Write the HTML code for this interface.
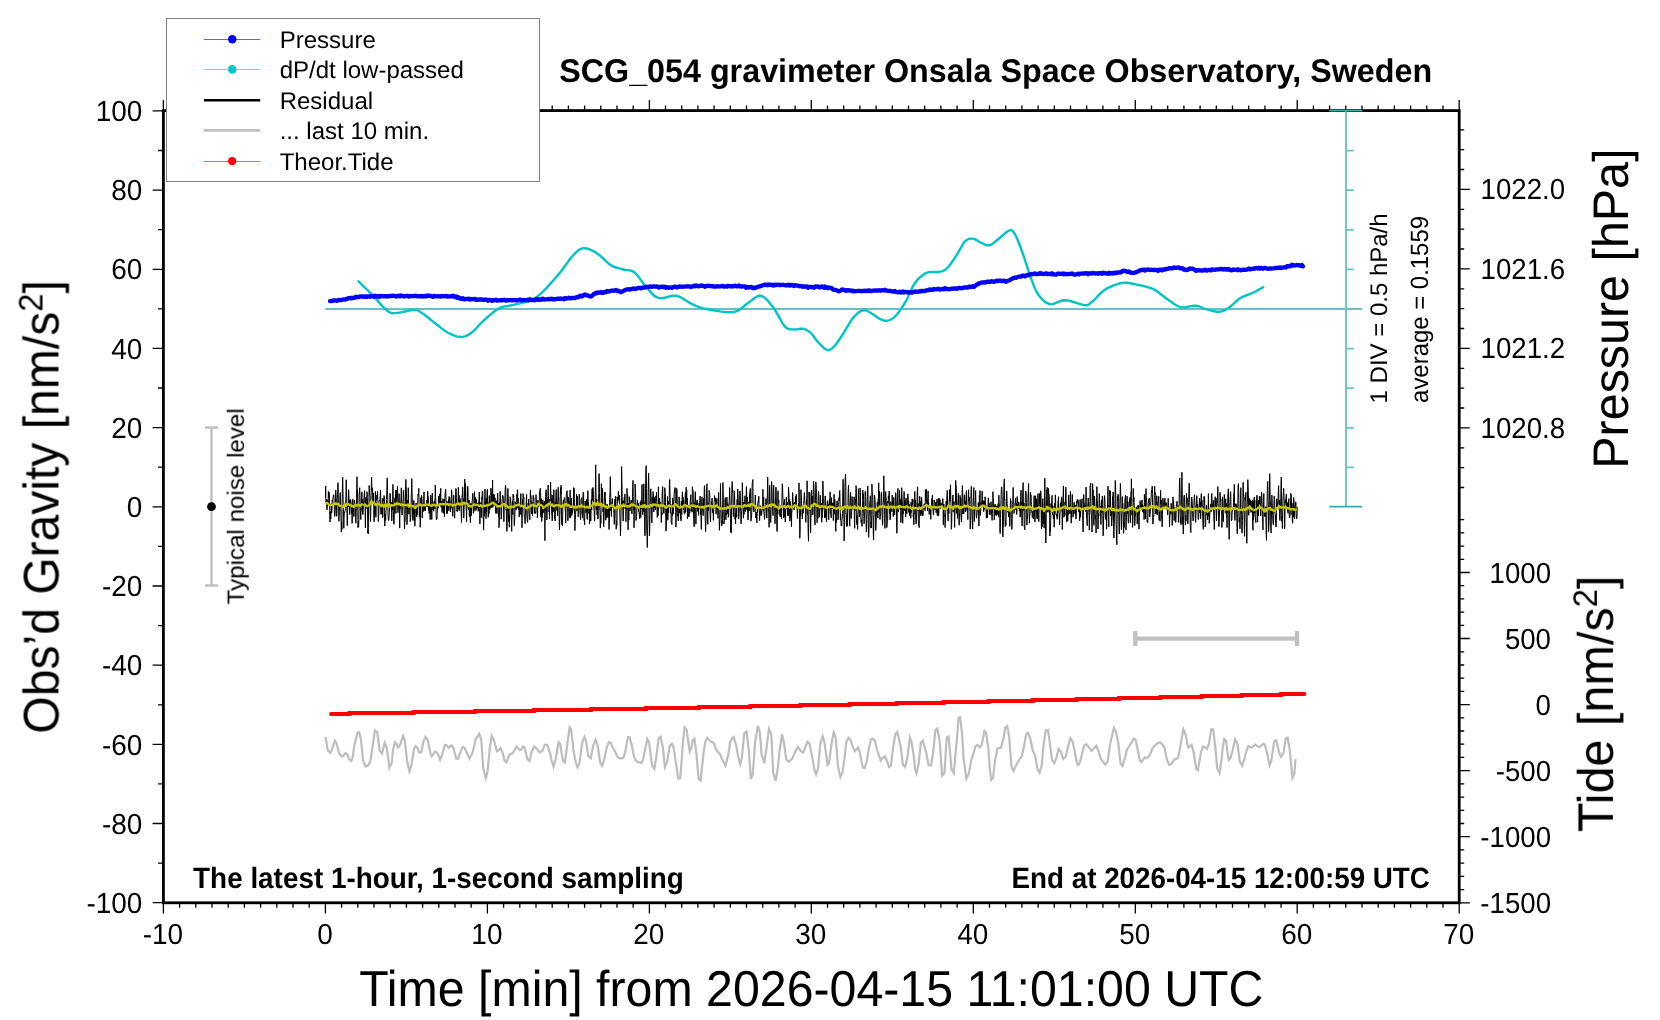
<!DOCTYPE html>
<html><head><meta charset="utf-8"><style>
html,body{margin:0;padding:0;background:#fff;width:1660px;height:1020px;overflow:hidden}
svg{display:block}
</style></head><body>
<svg width="1660" height="1020" viewBox="0 0 1660 1020">
<defs><filter id="gs" x="0" y="0" width="1660" height="1020" filterUnits="userSpaceOnUse"><feColorMatrix type="saturate" values="0"/></filter></defs>
<rect width="1660" height="1020" fill="#fff"/>
<path d="M152.6 902.7L163.4 902.7M158.0 863.1L163.4 863.1M152.6 823.5L163.4 823.5M158.0 783.9L163.4 783.9M152.6 744.3L163.4 744.3M158.0 704.8L163.4 704.8M152.6 665.2L163.4 665.2M158.0 625.6L163.4 625.6M152.6 586.0L163.4 586.0M158.0 546.4L163.4 546.4M152.6 506.8L163.4 506.8M158.0 467.2L163.4 467.2M152.6 427.6L163.4 427.6M158.0 388.0L163.4 388.0M152.6 348.4L163.4 348.4M158.0 308.9L163.4 308.9M152.6 269.3L163.4 269.3M158.0 229.7L163.4 229.7M152.6 190.1L163.4 190.1M158.0 150.5L163.4 150.5M152.6 110.9L163.4 110.9M163.4 902.8L163.4 913.4M163.4 110.6L163.4 100.0M179.6 902.8L179.6 907.8M179.6 110.6L179.6 105.6M195.8 902.8L195.8 907.8M195.8 110.6L195.8 105.6M212.0 902.8L212.0 907.8M212.0 110.6L212.0 105.6M228.2 902.8L228.2 907.8M228.2 110.6L228.2 105.6M244.4 902.8L244.4 907.8M244.4 110.6L244.4 105.6M260.6 902.8L260.6 907.8M260.6 110.6L260.6 105.6M276.8 902.8L276.8 907.8M276.8 110.6L276.8 105.6M293.0 902.8L293.0 907.8M293.0 110.6L293.0 105.6M309.2 902.8L309.2 907.8M309.2 110.6L309.2 105.6M325.4 902.8L325.4 913.4M325.4 110.6L325.4 100.0M341.6 902.8L341.6 907.8M341.6 110.6L341.6 105.6M357.8 902.8L357.8 907.8M357.8 110.6L357.8 105.6M374.0 902.8L374.0 907.8M374.0 110.6L374.0 105.6M390.2 902.8L390.2 907.8M390.2 110.6L390.2 105.6M406.4 902.8L406.4 907.8M406.4 110.6L406.4 105.6M422.6 902.8L422.6 907.8M422.6 110.6L422.6 105.6M438.8 902.8L438.8 907.8M438.8 110.6L438.8 105.6M455.0 902.8L455.0 907.8M455.0 110.6L455.0 105.6M471.2 902.8L471.2 907.8M471.2 110.6L471.2 105.6M487.4 902.8L487.4 913.4M487.4 110.6L487.4 100.0M503.6 902.8L503.6 907.8M503.6 110.6L503.6 105.6M519.8 902.8L519.8 907.8M519.8 110.6L519.8 105.6M536.0 902.8L536.0 907.8M536.0 110.6L536.0 105.6M552.2 902.8L552.2 907.8M552.2 110.6L552.2 105.6M568.4 902.8L568.4 907.8M568.4 110.6L568.4 105.6M584.6 902.8L584.6 907.8M584.6 110.6L584.6 105.6M600.8 902.8L600.8 907.8M600.8 110.6L600.8 105.6M617.0 902.8L617.0 907.8M617.0 110.6L617.0 105.6M633.2 902.8L633.2 907.8M633.2 110.6L633.2 105.6M649.4 902.8L649.4 913.4M649.4 110.6L649.4 100.0M665.5 902.8L665.5 907.8M665.5 110.6L665.5 105.6M681.7 902.8L681.7 907.8M681.7 110.6L681.7 105.6M697.9 902.8L697.9 907.8M697.9 110.6L697.9 105.6M714.1 902.8L714.1 907.8M714.1 110.6L714.1 105.6M730.3 902.8L730.3 907.8M730.3 110.6L730.3 105.6M746.5 902.8L746.5 907.8M746.5 110.6L746.5 105.6M762.7 902.8L762.7 907.8M762.7 110.6L762.7 105.6M778.9 902.8L778.9 907.8M778.9 110.6L778.9 105.6M795.1 902.8L795.1 907.8M795.1 110.6L795.1 105.6M811.3 902.8L811.3 913.4M811.3 110.6L811.3 100.0M827.5 902.8L827.5 907.8M827.5 110.6L827.5 105.6M843.7 902.8L843.7 907.8M843.7 110.6L843.7 105.6M859.9 902.8L859.9 907.8M859.9 110.6L859.9 105.6M876.1 902.8L876.1 907.8M876.1 110.6L876.1 105.6M892.3 902.8L892.3 907.8M892.3 110.6L892.3 105.6M908.5 902.8L908.5 907.8M908.5 110.6L908.5 105.6M924.7 902.8L924.7 907.8M924.7 110.6L924.7 105.6M940.9 902.8L940.9 907.8M940.9 110.6L940.9 105.6M957.1 902.8L957.1 907.8M957.1 110.6L957.1 105.6M973.3 902.8L973.3 913.4M973.3 110.6L973.3 100.0M989.5 902.8L989.5 907.8M989.5 110.6L989.5 105.6M1005.7 902.8L1005.7 907.8M1005.7 110.6L1005.7 105.6M1021.9 902.8L1021.9 907.8M1021.9 110.6L1021.9 105.6M1038.1 902.8L1038.1 907.8M1038.1 110.6L1038.1 105.6M1054.3 902.8L1054.3 907.8M1054.3 110.6L1054.3 105.6M1070.5 902.8L1070.5 907.8M1070.5 110.6L1070.5 105.6M1086.7 902.8L1086.7 907.8M1086.7 110.6L1086.7 105.6M1102.9 902.8L1102.9 907.8M1102.9 110.6L1102.9 105.6M1119.1 902.8L1119.1 907.8M1119.1 110.6L1119.1 105.6M1135.3 902.8L1135.3 913.4M1135.3 110.6L1135.3 100.0M1151.5 902.8L1151.5 907.8M1151.5 110.6L1151.5 105.6M1167.7 902.8L1167.7 907.8M1167.7 110.6L1167.7 105.6M1183.9 902.8L1183.9 907.8M1183.9 110.6L1183.9 105.6M1200.1 902.8L1200.1 907.8M1200.1 110.6L1200.1 105.6M1216.3 902.8L1216.3 907.8M1216.3 110.6L1216.3 105.6M1232.5 902.8L1232.5 907.8M1232.5 110.6L1232.5 105.6M1248.7 902.8L1248.7 907.8M1248.7 110.6L1248.7 105.6M1264.9 902.8L1264.9 907.8M1264.9 110.6L1264.9 105.6M1281.1 902.8L1281.1 907.8M1281.1 110.6L1281.1 105.6M1297.2 902.8L1297.2 913.4M1297.2 110.6L1297.2 100.0M1313.4 902.8L1313.4 907.8M1313.4 110.6L1313.4 105.6M1329.6 902.8L1329.6 907.8M1329.6 110.6L1329.6 105.6M1345.8 902.8L1345.8 907.8M1345.8 110.6L1345.8 105.6M1362.0 902.8L1362.0 907.8M1362.0 110.6L1362.0 105.6M1378.2 902.8L1378.2 907.8M1378.2 110.6L1378.2 105.6M1394.4 902.8L1394.4 907.8M1394.4 110.6L1394.4 105.6M1410.6 902.8L1410.6 907.8M1410.6 110.6L1410.6 105.6M1426.8 902.8L1426.8 907.8M1426.8 110.6L1426.8 105.6M1443.0 902.8L1443.0 907.8M1443.0 110.6L1443.0 105.6M1459.2 902.8L1459.2 913.4M1459.2 110.6L1459.2 100.0M1459.2 129.8L1464.2 129.8M1459.2 149.7L1464.2 149.7M1459.2 169.5L1464.2 169.5M1459.2 189.4L1469.8 189.4M1459.2 209.3L1464.2 209.3M1459.2 229.2L1464.2 229.2M1459.2 249.0L1464.2 249.0M1459.2 268.9L1469.8 268.9M1459.2 288.8L1464.2 288.8M1459.2 308.7L1464.2 308.7M1459.2 328.5L1464.2 328.5M1459.2 348.4L1469.8 348.4M1459.2 368.3L1464.2 368.3M1459.2 388.1L1464.2 388.1M1459.2 408.0L1464.2 408.0M1459.2 427.9L1469.8 427.9M1459.2 447.8L1464.2 447.8M1459.2 467.7L1464.2 467.7M1459.2 487.5L1464.2 487.5M1459.2 902.8L1469.8 902.8M1459.2 889.6L1464.2 889.6M1459.2 876.4L1464.2 876.4M1459.2 863.1L1464.2 863.1M1459.2 849.9L1464.2 849.9M1459.2 836.7L1469.8 836.7M1459.2 823.5L1464.2 823.5M1459.2 810.3L1464.2 810.3M1459.2 797.1L1464.2 797.1M1459.2 783.9L1464.2 783.9M1459.2 770.7L1469.8 770.7M1459.2 757.4L1464.2 757.4M1459.2 744.2L1464.2 744.2M1459.2 731.0L1464.2 731.0M1459.2 717.8L1464.2 717.8M1459.2 704.6L1469.8 704.6M1459.2 691.4L1464.2 691.4M1459.2 678.2L1464.2 678.2M1459.2 665.0L1464.2 665.0M1459.2 651.8L1464.2 651.8M1459.2 638.5L1469.8 638.5M1459.2 625.3L1464.2 625.3M1459.2 612.1L1464.2 612.1M1459.2 598.9L1464.2 598.9M1459.2 585.7L1464.2 585.7M1459.2 572.5L1469.8 572.5M1459.2 559.3L1464.2 559.3M1459.2 546.1L1464.2 546.1M1459.2 532.8L1464.2 532.8M1459.2 519.6L1464.2 519.6" fill="none" stroke="#000" stroke-width="1.3"/>
<rect x="163.4" y="110.6" width="1295.8" height="792.2" fill="none" stroke="#000" stroke-width="2.8"/>
<path d="M325.5 736.7L327.8 750.4L330.2 752.7L331.8 750.0L334.9 740.6L336.5 742.9L338.8 752.4L341.2 756.3L343.1 755.9L345.5 753.1L347.5 754.7L349.0 759.4L351.4 761.0L352.9 755.5L354.5 744.5L357.6 732.4L359.2 732.4L360.8 739.0L363.1 760.2L365.5 766.5L368.6 764.9L370.6 760.2L374.9 730.4L377.3 732.4L379.6 750.0L382.0 753.5L384.7 742.9L386.7 747.6L389.4 767.6L391.8 762.5L392.9 750.8L394.9 742.5L397.3 744.9L398.0 747.3L400.0 745.3L403.1 735.9L404.7 740.6L407.1 761.0L409.4 771.2L411.4 764.9L414.1 748.4L415.7 746.1L417.6 748.0L418.8 752.0L421.2 752.4L423.5 741.4L425.5 737.1L427.5 739.4L430.6 753.9L431.8 756.3L435.3 751.6L437.6 753.1L440.1 759.8L442.1 754.7L444.8 744.9L447.2 745.7L448.7 747.6L451.5 745.3L453.4 747.6L456.2 758.6L458.1 759.0L462.5 746.9L464.4 747.6L469.5 758.6L472.6 752.4L475.8 739.0L479.3 733.9L481.3 739.8L483.2 768.0L485.8 778.2L487.5 772.0L489.9 746.9L491.9 735.9L493.8 739.8L497.0 751.2L498.9 750.0L500.5 748.0L502.5 752.4L504.8 761.0L506.4 762.2L509.5 754.7L512.3 753.5L514.2 750.8L516.6 746.5L519.7 750.0L521.3 749.6L522.8 746.5L524.4 746.9L527.2 758.6L529.5 761.0L531.5 752.4L534.2 746.5L536.6 748.4L539.7 752.4L542.1 751.2L544.8 744.9L547.2 744.9L550.3 753.9L551.6 760.2L553.5 766.9L555.5 760.2L558.6 742.2L560.2 743.7L562.9 761.0L564.9 762.5L569.6 727.3L571.2 729.6L573.5 750.8L575.9 762.5L577.5 767.3L579.4 763.3L582.2 742.9L584.5 736.7L586.1 741.4L588.4 756.3L590.8 758.2L593.1 746.1L595.5 739.8L597.5 744.5L600.2 762.5L602.2 765.7L604.1 760.2L606.5 748.4L608.8 742.2L610.8 742.9L612.7 747.6L615.1 751.6L617.8 757.5L620.6 758.6L623.3 757.8L624.9 753.1L628.0 737.1L629.6 737.1L631.6 744.5L634.3 757.8L637.1 761.8L641.4 762.9L642.9 760.2L647.3 739.0L649.2 742.9L652.0 764.9L654.3 768.8L656.3 757.1L658.6 738.6L660.6 736.7L663.0 748.4L664.9 767.3L667.0 762.5L669.7 746.1L672.1 743.7L673.6 747.6L676.0 763.3L678.3 778.6L680.3 778.2L683.0 742.2L684.6 727.3L686.6 729.6L689.7 751.6L691.3 748.4L692.8 739.8L694.4 738.6L696.4 753.9L698.7 779.0L700.7 780.6L703.4 753.9L705.4 741.4L707.4 737.8L710.5 741.4L713.6 742.9L716.8 750.8L719.9 753.9L723.0 761.0L725.4 765.7L728.5 753.9L730.1 742.9L732.1 738.2L733.6 737.1L736.0 744.5L738.3 757.1L740.3 764.1L741.9 757.8L744.2 733.5L746.6 731.6L748.9 751.6L750.9 779.0L752.8 774.3L755.2 741.4L757.9 725.7L759.9 732.7L761.5 753.9L764.2 763.3L766.2 750.8L768.9 728.8L771.3 734.3L773.2 772.7L775.6 781.0L777.9 767.3L779.5 751.6L782.0 734.3L783.9 742.2L786.3 759.4L788.6 761.8L792.2 758.6L795.3 751.6L798.0 746.9L800.8 751.2L803.1 752.7L807.5 741.8L809.4 743.3L812.2 757.1L814.5 769.6L816.1 774.3L818.0 768.8L820.4 742.9L822.7 736.3L824.3 741.4L826.3 755.5L827.5 764.9L829.0 763.3L831.4 744.5L833.7 732.4L835.7 737.5L838.0 766.5L840.4 777.1L842.4 772.7L844.3 760.2L846.3 742.2L848.6 737.8L850.6 739.8L852.5 746.1L854.9 751.2L858.0 747.6L859.6 751.6L862.7 767.3L864.7 768.0L866.7 761.8L868.6 750.0L871.0 739.4L872.5 738.6L874.9 740.6L877.3 750.8L880.8 760.6L882.0 758.6L884.7 756.3L886.7 760.2L889.0 766.9L891.0 765.3L892.9 749.2L895.3 734.3L897.2 732.0L898.9 738.7L900.9 747.4L902.8 764.6L905.2 767.0L907.2 758.3L909.9 737.9L911.5 741.9L913.8 756.0L915.0 768.5L916.6 773.2L918.5 764.6L920.9 742.6L922.8 740.7L926.0 752.1L928.7 765.4L931.1 765.4L933.4 750.5L935.4 730.1L937.4 728.5L939.7 741.9L942.1 775.6L944.4 773.2L946.8 737.2L948.7 736.4L951.5 769.3L953.8 773.2L957.0 737.9L958.5 717.9L960.1 717.2L962.1 734.0L963.6 758.3L966.4 778.7L968.7 774.0L971.5 759.1L973.4 753.6L975.4 746.2L977.7 745.0L979.7 747.4L981.7 745.0L984.4 730.9L986.0 732.5L988.3 748.1L989.9 769.3L991.1 779.9L993.0 778.0L995.0 760.7L997.4 748.5L1000.9 747.7L1003.6 737.9L1005.2 727.7L1007.2 726.2L1009.1 736.4L1011.5 766.2L1013.5 770.9L1018.2 761.1L1021.8 756.4L1024.1 745.8L1026.1 734.8L1028.0 732.8L1030.4 738.7L1032.7 750.5L1035.1 755.2L1037.5 769.3L1039.6 772.8L1041.8 764.6L1043.7 744.2L1045.7 730.5L1048.0 730.1L1050.0 744.2L1052.0 759.9L1054.3 763.0L1056.3 758.3L1058.6 748.9L1061.0 752.1L1063.3 759.1L1065.7 756.8L1068.0 746.6L1070.4 738.3L1072.4 741.1L1074.3 748.9L1076.3 759.9L1077.8 765.0L1079.4 763.8L1081.8 755.2L1084.1 745.8L1086.5 744.2L1091.6 750.9L1096.3 745.8L1098.6 751.3L1101.0 759.1L1105.3 764.6L1107.6 761.5L1110.4 742.6L1113.9 728.1L1115.9 731.7L1118.2 742.6L1120.6 763.8L1122.5 765.8L1125.0 757.5L1127.0 749.7L1130.5 744.2L1134.0 738.7L1135.6 739.5L1137.9 750.5L1139.9 760.7L1141.5 761.9L1144.6 757.5L1147.7 757.9L1150.1 754.4L1152.8 747.7L1157.2 743.4L1159.9 742.3L1162.3 744.2L1164.6 748.1L1167.0 759.9L1169.3 765.0L1171.3 763.8L1174.4 759.5L1177.5 758.3L1179.1 753.6L1180.7 744.2L1183.4 729.3L1185.8 735.2L1187.4 744.2L1188.5 747.7L1191.7 745.0L1193.6 752.1L1196.4 769.3L1197.9 770.1L1201.1 752.1L1203.0 746.6L1205.0 747.0L1207.0 748.9L1208.9 744.2L1211.3 729.3L1213.2 729.3L1215.2 745.8L1217.2 768.5L1219.5 773.2L1221.5 759.9L1222.6 748.9L1224.2 739.1L1226.2 741.1L1227.4 752.1L1228.9 759.9L1230.4 758.3L1232.4 751.3L1235.1 739.5L1237.5 744.2L1239.8 761.5L1242.2 765.8L1244.1 759.9L1246.5 750.5L1248.4 746.2L1251.6 747.7L1255.1 744.6L1259.4 747.4L1263.3 743.8L1264.9 745.0L1267.6 755.2L1269.6 765.4L1271.2 761.5L1274.3 741.1L1276.3 740.3L1279.0 752.1L1281.0 756.8L1283.3 753.6L1285.7 738.7L1287.6 737.5L1289.6 748.9L1292.4 778.0L1294.3 774.0L1295.5 759.1" fill="none" stroke="#bdbdbd" stroke-width="2.2" stroke-linejoin="miter"/>
<path d="M331.0 714.0H349.5V713.0H413.5V712.0H475.0V711.0H534.0V710.0H591.0V709.0H646.0V708.0H699.0V707.0H750.5V706.0H800.5V705.0H849.5V704.0H897.0V703.0H943.5V702.0H988.5V701.0H1033.0V700.0H1076.5V699.0H1119.0V698.0H1160.5V697.0H1201.5V696.0H1241.5V695.0H1281.0V694.0H1304.5" fill="none" stroke="#ff0000" stroke-width="3.8" stroke-linecap="round" stroke-linejoin="miter"/>
<path d="M325.4 498.0L325.7 485.9L325.9 502.1L326.2 502.4L326.5 499.3L326.8 508.0L327.0 509.9L327.3 502.3L327.6 506.2L327.8 499.8L328.1 503.6L328.4 491.4L328.6 495.7L328.9 497.9L329.2 492.4L329.5 501.1L329.7 509.7L330.0 522.0L330.3 511.7L330.5 514.7L330.8 518.9L331.1 510.5L331.3 503.8L331.6 513.2L331.9 512.0L332.2 500.1L332.4 502.1L332.7 499.4L333.0 497.3L333.2 497.2L333.5 494.8L333.8 494.8L334.0 498.7L334.3 508.0L334.6 516.5L334.9 515.6L335.1 513.7L335.4 505.7L335.7 490.0L335.9 492.7L336.2 497.7L336.5 510.3L336.7 516.3L337.0 511.1L337.3 498.7L337.6 494.2L337.8 484.1L338.1 482.7L338.4 505.2L338.6 506.4L338.9 521.3L339.2 515.0L339.4 511.2L339.7 506.5L340.0 495.1L340.3 492.4L340.5 505.2L340.8 508.8L341.1 523.0L341.3 532.1L341.6 521.8L341.9 529.8L342.1 505.2L342.4 488.1L342.7 477.2L343.0 492.9L343.2 505.2L343.5 509.8L343.8 528.3L344.0 519.1L344.3 511.9L344.6 512.5L344.8 512.4L345.1 511.4L345.4 508.3L345.7 502.1L345.9 495.6L346.2 479.8L346.5 488.5L346.7 497.3L347.0 514.3L347.3 525.7L347.5 514.8L347.8 505.4L348.1 506.7L348.4 503.7L348.6 489.7L348.9 495.7L349.2 503.2L349.4 499.9L349.7 514.6L350.0 509.5L350.2 504.8L350.5 499.5L350.8 500.5L351.1 502.6L351.3 505.8L351.6 513.8L351.9 515.4L352.1 523.4L352.4 515.5L352.7 499.5L352.9 499.1L353.2 511.4L353.5 505.7L353.8 516.6L354.0 516.6L354.3 500.3L354.6 500.1L354.8 504.1L355.1 504.5L355.4 508.9L355.6 516.3L355.9 523.2L356.2 512.8L356.5 502.0L356.7 489.6L357.0 476.7L357.3 496.9L357.5 490.0L357.8 511.5L358.1 527.7L358.3 521.5L358.6 527.0L358.9 519.7L359.2 494.3L359.4 491.7L359.7 487.7L360.0 497.3L360.2 502.7L360.5 514.1L360.8 519.5L361.0 512.8L361.3 507.4L361.6 499.1L361.9 491.8L362.1 504.1L362.4 511.3L362.7 499.6L362.9 514.6L363.2 506.7L363.5 505.4L363.7 501.7L364.0 498.1L364.3 493.1L364.6 490.6L364.8 504.6L365.1 506.4L365.4 527.9L365.6 509.2L365.9 497.4L366.2 508.6L366.4 507.1L366.7 507.6L367.0 491.7L367.3 497.6L367.5 506.0L367.8 533.0L368.1 530.0L368.3 534.0L368.6 504.4L368.9 504.4L369.1 485.5L369.4 488.6L369.7 495.8L370.0 496.4L370.2 514.1L370.5 521.7L370.8 511.4L371.0 499.6L371.3 486.7L371.6 477.1L371.8 486.0L372.1 491.0L372.4 487.9L372.7 497.2L372.9 501.7L373.2 494.0L373.5 492.9L373.7 508.8L374.0 521.8L374.3 518.4L374.5 506.6L374.8 514.7L375.1 507.1L375.4 491.4L375.6 503.9L375.9 517.3L376.2 501.5L376.4 500.1L376.7 497.6L377.0 495.0L377.2 498.4L377.5 491.4L377.8 500.6L378.1 500.9L378.3 521.6L378.6 516.7L378.9 512.1L379.1 502.4L379.4 500.1L379.7 500.2L379.9 499.7L380.2 497.0L380.5 490.4L380.8 506.1L381.0 514.3L381.3 507.8L381.6 513.4L381.8 514.2L382.1 510.7L382.4 498.4L382.6 517.7L382.9 517.0L383.2 499.1L383.5 499.7L383.7 500.7L384.0 495.6L384.3 496.6L384.5 505.6L384.8 526.1L385.1 514.1L385.3 520.0L385.6 520.8L385.9 511.9L386.2 509.0L386.4 499.6L386.7 494.8L387.0 485.1L387.2 477.9L387.5 490.2L387.8 500.3L388.0 513.9L388.3 520.0L388.6 520.6L388.9 519.2L389.1 515.8L389.4 512.3L389.7 507.4L389.9 493.5L390.2 494.0L390.5 493.8L390.7 505.2L391.0 502.1L391.3 502.3L391.6 512.5L391.8 520.9L392.1 508.6L392.4 509.9L392.6 499.3L392.9 484.4L393.2 496.9L393.4 511.4L393.7 521.0L394.0 524.3L394.3 515.2L394.5 509.0L394.8 498.4L395.1 497.6L395.3 501.9L395.6 490.2L395.9 513.4L396.1 503.4L396.4 501.6L396.7 491.8L397.0 490.0L397.2 497.6L397.5 486.2L397.8 504.5L398.0 512.8L398.3 502.1L398.6 508.9L398.8 498.9L399.1 493.6L399.4 502.8L399.7 528.1L399.9 512.4L400.2 508.1L400.5 508.3L400.7 505.3L401.0 496.7L401.3 487.8L401.5 491.0L401.8 513.5L402.1 514.9L402.4 511.3L402.6 510.3L402.9 505.1L403.2 498.5L403.4 490.0L403.7 490.1L404.0 501.6L404.2 515.5L404.5 529.0L404.8 522.5L405.1 521.7L405.3 513.2L405.6 485.6L405.9 479.4L406.1 485.3L406.4 491.0L406.7 512.0L407.0 524.7L407.2 521.0L407.5 506.9L407.8 500.1L408.0 503.0L408.3 487.7L408.6 502.6L408.8 514.2L409.1 508.1L409.4 509.9L409.7 506.7L409.9 510.1L410.2 521.6L410.5 519.0L410.7 519.1L411.0 510.3L411.3 495.0L411.5 487.5L411.8 478.6L412.1 492.6L412.4 505.6L412.6 516.0L412.9 520.5L413.2 510.9L413.4 514.5L413.7 500.3L414.0 501.6L414.2 520.5L414.5 509.6L414.8 526.2L415.1 521.5L415.3 510.2L415.6 509.7L415.9 510.6L416.1 503.0L416.4 513.4L416.7 517.1L416.9 505.8L417.2 514.8L417.5 511.6L417.8 500.5L418.0 494.1L418.3 495.2L418.6 491.3L418.8 488.4L419.1 503.5L419.4 517.1L419.6 505.1L419.9 510.8L420.2 527.3L420.5 521.2L420.7 499.2L421.0 497.6L421.3 504.4L421.5 495.3L421.8 496.6L422.1 501.0L422.3 518.0L422.6 504.8L422.9 507.5L423.2 510.3L423.4 511.5L423.7 502.7L424.0 491.8L424.2 504.1L424.5 510.5L424.8 507.4L425.0 508.4L425.3 511.0L425.6 508.4L425.9 504.6L426.1 505.6L426.4 506.1L426.7 501.1L426.9 500.0L427.2 506.8L427.5 495.0L427.7 491.2L428.0 496.6L428.3 496.3L428.6 510.3L428.8 504.3L429.1 513.6L429.4 508.9L429.6 504.7L429.9 509.5L430.2 519.7L430.4 509.5L430.7 495.0L431.0 497.8L431.3 510.8L431.5 510.3L431.8 519.5L432.1 500.3L432.3 493.1L432.6 508.4L432.9 509.9L433.1 504.0L433.4 503.4L433.7 511.2L434.0 501.6L434.2 505.5L434.5 500.7L434.8 508.7L435.0 501.4L435.3 485.1L435.6 497.3L435.8 498.7L436.1 514.5L436.4 519.7L436.7 518.2L436.9 519.1L437.2 513.4L437.5 506.9L437.7 508.8L438.0 505.4L438.3 507.8L438.5 496.1L438.8 498.7L439.1 499.5L439.4 505.1L439.6 499.0L439.9 493.7L440.2 504.2L440.4 501.1L440.7 488.3L441.0 505.8L441.2 507.3L441.5 501.3L441.8 505.1L442.1 512.5L442.3 505.8L442.6 509.4L442.9 498.7L443.1 502.4L443.4 513.4L443.7 501.6L443.9 502.3L444.2 499.1L444.5 516.7L444.8 505.1L445.0 494.6L445.3 492.0L445.6 489.0L445.8 491.9L446.1 501.0L446.4 502.1L446.6 514.0L446.9 507.9L447.2 506.1L447.5 513.3L447.7 501.5L448.0 506.8L448.3 508.0L448.5 499.3L448.8 510.6L449.1 496.5L449.3 503.4L449.6 497.3L449.9 497.3L450.2 510.0L450.4 511.9L450.7 508.1L451.0 502.4L451.2 507.6L451.5 489.8L451.8 491.2L452.0 501.9L452.3 509.9L452.6 516.3L452.9 505.8L453.1 506.1L453.4 505.8L453.7 495.1L453.9 507.1L454.2 516.6L454.5 516.7L454.7 518.1L455.0 504.4L455.3 505.0L455.6 497.0L455.8 488.4L456.1 488.9L456.4 497.9L456.6 502.0L456.9 511.2L457.2 510.0L457.4 511.5L457.7 502.3L458.0 509.6L458.3 487.4L458.5 490.2L458.8 502.4L459.1 495.4L459.3 511.0L459.6 503.7L459.9 505.3L460.1 498.5L460.4 503.6L460.7 505.9L461.0 508.4L461.2 512.0L461.5 522.6L461.8 509.6L462.0 495.9L462.3 496.4L462.6 486.9L462.8 488.3L463.1 500.7L463.4 498.7L463.7 518.1L463.9 516.0L464.2 504.4L464.5 498.6L464.7 479.0L465.0 491.7L465.3 504.0L465.5 483.5L465.8 494.1L466.1 507.1L466.4 512.3L466.6 521.7L466.9 503.3L467.2 505.2L467.4 500.7L467.7 486.2L468.0 491.3L468.2 508.3L468.5 509.6L468.8 508.6L469.1 499.9L469.3 515.8L469.6 516.8L469.9 509.6L470.1 508.5L470.4 522.5L470.7 507.4L470.9 503.3L471.2 515.7L471.5 510.5L471.8 505.9L472.0 501.5L472.3 500.5L472.6 499.3L472.8 493.2L473.1 505.1L473.4 513.3L473.6 510.4L473.9 510.1L474.2 501.4L474.5 491.7L474.7 500.3L475.0 511.2L475.3 502.4L475.5 497.1L475.8 506.0L476.1 505.1L476.3 499.0L476.6 509.8L476.9 506.3L477.2 507.7L477.4 504.4L477.7 503.0L478.0 505.5L478.2 511.3L478.5 509.7L478.8 500.5L479.0 500.1L479.3 492.1L479.6 508.7L479.9 523.9L480.1 514.2L480.4 502.6L480.7 505.2L480.9 505.5L481.2 517.6L481.5 515.0L481.7 497.5L482.0 499.2L482.3 490.9L482.6 491.4L482.8 492.4L483.1 518.9L483.4 518.9L483.6 530.1L483.9 516.4L484.2 504.6L484.4 516.2L484.7 504.8L485.0 489.0L485.3 513.4L485.5 501.2L485.8 507.6L486.1 518.6L486.3 498.0L486.6 511.7L486.9 500.1L487.1 490.9L487.4 489.4L487.7 505.0L488.0 507.8L488.2 517.2L488.5 515.7L488.8 502.5L489.0 513.6L489.3 495.6L489.6 503.1L489.9 509.3L490.1 504.3L490.4 507.9L490.7 504.3L490.9 488.2L491.2 491.2L491.5 499.2L491.7 507.7L492.0 504.9L492.3 493.0L492.6 480.1L492.8 507.4L493.1 503.6L493.4 494.0L493.6 504.8L493.9 501.1L494.2 494.6L494.4 502.4L494.7 505.4L495.0 497.8L495.3 500.1L495.5 508.8L495.8 513.4L496.1 504.2L496.3 512.8L496.6 500.8L496.9 513.5L497.1 508.2L497.4 498.3L497.7 493.1L498.0 505.1L498.2 503.3L498.5 516.7L498.8 515.2L499.0 527.7L499.3 520.9L499.6 502.0L499.8 504.3L500.1 491.3L500.4 496.8L500.7 502.2L500.9 510.7L501.2 519.2L501.5 516.2L501.7 507.7L502.0 502.7L502.3 499.2L502.5 495.2L502.8 495.5L503.1 496.0L503.4 500.9L503.6 510.2L503.9 521.7L504.2 506.8L504.4 503.8L504.7 502.0L505.0 495.2L505.2 488.9L505.5 485.2L505.8 487.9L506.1 510.3L506.3 509.1L506.6 526.2L506.9 531.4L507.1 526.7L507.4 511.1L507.7 493.9L507.9 488.4L508.2 496.1L508.5 508.0L508.8 522.0L509.0 514.8L509.3 527.2L509.6 519.6L509.8 510.6L510.1 496.7L510.4 497.2L510.6 498.4L510.9 503.8L511.2 507.4L511.5 523.2L511.7 531.4L512.0 512.3L512.3 504.4L512.5 500.7L512.8 514.7L513.1 494.2L513.3 497.7L513.6 494.6L513.9 500.9L514.2 524.8L514.4 525.7L514.7 518.0L515.0 511.5L515.2 501.7L515.5 503.3L515.8 508.9L516.0 505.7L516.3 510.0L516.6 502.3L516.9 494.4L517.1 498.2L517.4 489.7L517.7 492.7L517.9 508.0L518.2 498.1L518.5 509.7L518.7 502.5L519.0 510.3L519.3 517.0L519.6 507.4L519.8 505.5L520.1 514.6L520.4 503.9L520.6 496.4L520.9 493.6L521.2 514.3L521.4 506.8L521.7 508.1L522.0 527.8L522.3 512.5L522.5 499.5L522.8 504.6L523.1 493.6L523.3 495.9L523.6 498.7L523.9 497.3L524.1 513.1L524.4 517.7L524.7 518.5L525.0 522.4L525.2 523.7L525.5 510.8L525.8 508.1L526.0 507.6L526.3 501.4L526.6 494.4L526.8 514.1L527.1 518.3L527.4 522.2L527.7 522.2L527.9 510.9L528.2 503.1L528.5 507.5L528.7 499.1L529.0 510.3L529.3 515.8L529.5 516.2L529.8 519.7L530.1 509.2L530.4 490.0L530.6 497.5L530.9 495.4L531.2 499.4L531.4 504.6L531.7 514.0L532.0 507.9L532.2 502.3L532.5 515.6L532.8 510.8L533.1 496.3L533.3 495.3L533.6 499.3L533.9 497.8L534.1 505.0L534.4 507.3L534.7 513.4L534.9 511.8L535.2 511.7L535.5 513.4L535.8 511.7L536.0 494.7L536.3 500.2L536.6 502.5L536.8 503.4L537.1 510.0L537.4 518.1L537.6 515.2L537.9 500.1L538.2 506.3L538.5 507.1L538.7 506.4L539.0 503.9L539.3 500.9L539.5 491.5L539.8 491.7L540.1 488.7L540.3 488.3L540.6 492.7L540.9 516.8L541.2 498.5L541.4 511.9L541.7 521.7L542.0 508.2L542.2 517.6L542.5 515.7L542.8 499.8L543.0 513.2L543.3 511.3L543.6 503.2L543.9 511.5L544.1 506.1L544.4 501.3L544.7 511.5L544.9 540.7L545.2 514.3L545.5 506.7L545.7 492.5L546.0 489.9L546.3 489.8L546.6 509.0L546.8 520.0L547.1 514.1L547.4 504.6L547.6 498.5L547.9 496.8L548.2 485.0L548.4 495.4L548.7 502.9L549.0 512.0L549.3 509.3L549.5 519.1L549.8 499.1L550.1 500.8L550.3 500.9L550.6 482.2L550.9 495.5L551.1 494.7L551.4 497.3L551.7 513.9L552.0 516.2L552.2 520.9L552.5 513.9L552.8 495.1L553.0 504.0L553.3 511.8L553.6 502.9L553.8 489.6L554.1 499.7L554.4 511.8L554.7 519.0L554.9 517.7L555.2 521.0L555.5 501.6L555.7 505.0L556.0 490.6L556.3 489.6L556.5 497.2L556.8 509.1L557.1 511.0L557.4 502.6L557.6 515.9L557.9 499.5L558.2 487.3L558.4 501.1L558.7 497.7L559.0 508.0L559.2 520.8L559.5 529.9L559.8 518.8L560.1 507.2L560.3 493.0L560.6 487.7L560.9 494.5L561.1 485.2L561.4 506.1L561.7 519.3L561.9 524.7L562.2 517.9L562.5 526.1L562.8 507.1L563.0 503.3L563.3 500.4L563.6 500.0L563.8 507.2L564.1 499.8L564.4 497.5L564.6 497.8L564.9 500.4L565.2 509.3L565.5 512.7L565.7 523.1L566.0 508.9L566.3 494.0L566.5 492.8L566.8 491.8L567.1 490.7L567.3 494.7L567.6 502.5L567.9 520.8L568.2 508.3L568.4 497.4L568.7 503.5L569.0 501.5L569.2 514.4L569.5 515.0L569.8 518.0L570.1 490.0L570.3 508.3L570.6 517.6L570.9 515.2L571.1 502.1L571.4 498.2L571.7 515.5L571.9 515.3L572.2 506.5L572.5 513.2L572.8 510.9L573.0 508.1L573.3 503.0L573.6 487.6L573.8 506.5L574.1 488.3L574.4 508.5L574.6 514.6L574.9 530.6L575.2 519.6L575.5 519.0L575.7 510.6L576.0 507.4L576.3 508.6L576.5 494.0L576.8 510.9L577.1 509.6L577.3 495.9L577.6 505.7L577.9 507.4L578.2 516.8L578.4 514.9L578.7 514.1L579.0 506.7L579.2 494.2L579.5 498.1L579.8 505.8L580.0 507.5L580.3 516.8L580.6 519.7L580.9 513.2L581.1 499.4L581.4 498.8L581.7 497.6L581.9 499.9L582.2 513.9L582.5 509.8L582.7 517.8L583.0 492.7L583.3 492.1L583.6 492.1L583.8 515.5L584.1 520.7L584.4 518.3L584.6 525.0L584.9 509.3L585.2 501.1L585.4 505.3L585.7 508.7L586.0 512.7L586.3 508.4L586.5 499.5L586.8 512.6L587.1 518.7L587.3 519.5L587.6 500.0L587.9 490.7L588.1 500.3L588.4 501.3L588.7 505.2L589.0 513.6L589.2 507.4L589.5 524.1L589.8 518.8L590.0 513.0L590.3 508.9L590.6 517.8L590.8 521.1L591.1 508.8L591.4 499.1L591.7 509.9L591.9 493.3L592.2 488.7L592.5 500.5L592.7 489.2L593.0 487.4L593.3 490.5L593.5 506.3L593.8 505.2L594.1 511.2L594.4 518.3L594.6 521.1L594.9 510.7L595.2 497.4L595.4 487.5L595.7 464.8L596.0 491.4L596.2 508.6L596.5 509.8L596.8 499.4L597.1 515.0L597.3 504.3L597.6 503.3L597.9 519.1L598.1 516.1L598.4 500.5L598.7 493.7L598.9 474.8L599.2 473.6L599.5 492.4L599.8 510.4L600.0 510.6L600.3 528.1L600.6 515.4L600.8 523.7L601.1 507.6L601.4 483.7L601.6 494.9L601.9 503.6L602.2 493.7L602.5 488.4L602.7 497.2L603.0 511.9L603.3 505.9L603.5 525.7L603.8 526.8L604.1 516.3L604.3 501.8L604.6 492.1L604.9 494.8L605.2 492.4L605.4 499.0L605.7 520.3L606.0 508.0L606.2 518.2L606.5 511.7L606.8 509.1L607.0 504.0L607.3 509.6L607.6 507.5L607.9 517.6L608.1 506.6L608.4 515.8L608.7 509.1L608.9 528.7L609.2 529.5L609.5 513.8L609.7 497.2L610.0 491.9L610.3 476.6L610.6 488.2L610.8 510.8L611.1 504.1L611.4 516.6L611.6 503.2L611.9 501.3L612.2 499.3L612.4 498.5L612.7 504.5L613.0 507.9L613.3 506.8L613.5 506.4L613.8 507.6L614.1 520.6L614.3 524.4L614.6 517.8L614.9 499.1L615.1 509.8L615.4 502.1L615.7 496.2L616.0 518.4L616.2 529.2L616.5 521.0L616.8 525.8L617.0 521.2L617.3 497.0L617.6 502.9L617.8 499.7L618.1 498.4L618.4 491.3L618.7 500.2L618.9 500.1L619.2 500.2L619.5 495.5L619.7 507.0L620.0 521.8L620.3 529.2L620.5 535.8L620.8 524.8L621.1 507.0L621.4 503.0L621.6 466.6L621.9 481.8L622.2 496.4L622.4 508.1L622.7 500.9L623.0 517.6L623.2 521.1L623.5 510.4L623.8 500.7L624.1 506.8L624.3 497.2L624.6 503.6L624.9 494.0L625.1 508.7L625.4 505.7L625.7 507.6L625.9 521.7L626.2 511.8L626.5 507.6L626.8 502.6L627.0 488.4L627.3 498.4L627.6 495.0L627.8 511.4L628.1 529.8L628.4 503.2L628.6 518.0L628.9 520.2L629.2 496.7L629.5 500.9L629.7 502.3L630.0 511.1L630.3 503.1L630.5 503.3L630.8 507.3L631.1 499.9L631.3 501.0L631.6 503.4L631.9 513.9L632.2 504.3L632.4 502.4L632.7 487.7L633.0 480.4L633.2 496.4L633.5 509.9L633.8 510.1L634.0 527.8L634.3 514.2L634.6 504.4L634.9 502.4L635.1 484.1L635.4 488.5L635.7 497.3L635.9 520.3L636.2 520.5L636.5 516.4L636.7 514.8L637.0 505.7L637.3 502.2L637.6 500.2L637.8 507.7L638.1 504.9L638.4 503.5L638.6 511.9L638.9 511.7L639.2 512.1L639.4 516.6L639.7 518.7L640.0 511.9L640.3 502.1L640.5 512.3L640.8 517.6L641.1 500.4L641.3 508.5L641.6 504.8L641.9 485.8L642.1 484.4L642.4 510.3L642.7 514.9L643.0 505.7L643.2 511.7L643.5 506.4L643.8 483.8L644.0 509.8L644.3 502.3L644.6 524.4L644.8 535.9L645.1 534.1L645.4 504.1L645.7 479.1L645.9 468.4L646.2 465.6L646.5 488.7L646.7 530.3L647.0 535.2L647.3 547.5L647.5 530.8L647.8 518.1L648.1 496.6L648.4 481.8L648.6 473.2L648.9 485.3L649.2 511.7L649.4 535.8L649.7 530.9L650.0 514.2L650.3 502.9L650.5 490.8L650.8 488.8L651.1 495.6L651.3 503.0L651.6 511.0L651.9 522.8L652.1 513.2L652.4 497.6L652.7 505.6L653.0 491.6L653.2 493.1L653.5 499.0L653.8 512.0L654.0 496.9L654.3 507.5L654.6 502.5L654.8 499.3L655.1 502.9L655.4 509.8L655.7 499.8L655.9 496.0L656.2 501.1L656.5 492.1L656.7 501.6L657.0 510.1L657.3 517.5L657.5 513.6L657.8 507.6L658.1 515.6L658.4 486.8L658.6 500.1L658.9 508.3L659.2 505.8L659.4 498.3L659.7 504.7L660.0 505.4L660.2 501.8L660.5 505.5L660.8 504.1L661.1 512.3L661.3 522.6L661.6 512.0L661.9 515.4L662.1 494.3L662.4 489.8L662.7 486.6L662.9 499.3L663.2 505.9L663.5 513.2L663.8 512.9L664.0 513.3L664.3 507.5L664.6 502.4L664.8 487.7L665.1 492.2L665.4 493.6L665.6 509.0L665.9 531.1L666.2 530.4L666.5 517.3L666.7 508.9L667.0 518.7L667.3 506.1L667.5 496.5L667.8 520.3L668.1 504.4L668.3 501.1L668.6 512.9L668.9 502.9L669.2 504.1L669.4 483.3L669.7 479.5L670.0 492.8L670.2 498.0L670.5 512.6L670.8 504.1L671.0 515.7L671.3 522.8L671.6 522.2L671.9 524.6L672.1 512.4L672.4 515.9L672.7 497.8L672.9 502.5L673.2 514.1L673.5 506.5L673.7 503.7L674.0 498.8L674.3 492.0L674.6 489.6L674.8 492.8L675.1 487.5L675.4 505.7L675.6 502.1L675.9 527.0L676.2 517.5L676.4 500.1L676.7 488.3L677.0 489.7L677.3 504.1L677.5 507.2L677.8 516.3L678.1 513.9L678.3 520.9L678.6 507.1L678.9 504.8L679.1 496.9L679.4 504.7L679.7 513.2L680.0 506.7L680.2 508.1L680.5 519.0L680.8 515.7L681.0 521.0L681.3 501.2L681.6 514.7L681.8 514.7L682.1 497.9L682.4 491.8L682.7 506.3L682.9 496.8L683.2 499.1L683.5 509.5L683.7 500.3L684.0 512.6L684.3 513.3L684.5 514.2L684.8 513.6L685.1 500.8L685.4 492.6L685.6 512.4L685.9 498.9L686.2 487.2L686.4 503.7L686.7 490.3L687.0 507.0L687.2 498.1L687.5 518.9L687.8 511.0L688.1 505.1L688.3 511.6L688.6 516.7L688.9 517.0L689.1 516.8L689.4 505.8L689.7 512.9L689.9 509.7L690.2 501.9L690.5 498.3L690.8 494.7L691.0 507.8L691.3 511.0L691.6 503.6L691.8 504.7L692.1 512.2L692.4 486.7L692.6 490.7L692.9 490.0L693.2 491.4L693.5 515.5L693.7 519.5L694.0 525.8L694.3 526.8L694.5 502.1L694.8 501.8L695.1 497.0L695.3 491.7L695.6 501.7L695.9 524.1L696.2 509.6L696.4 506.7L696.7 501.7L697.0 501.0L697.2 499.9L697.5 505.9L697.8 511.5L698.0 508.8L698.3 506.4L698.6 515.4L698.9 505.2L699.1 503.1L699.4 508.2L699.7 507.0L699.9 497.5L700.2 496.1L700.5 514.2L700.7 511.2L701.0 518.5L701.3 529.3L701.6 515.5L701.8 498.5L702.1 497.0L702.4 508.5L702.6 510.2L702.9 512.5L703.2 515.6L703.4 509.8L703.7 498.4L704.0 507.0L704.3 487.8L704.5 485.7L704.8 496.8L705.1 517.3L705.3 521.0L705.6 531.6L705.9 523.3L706.1 519.0L706.4 498.8L706.7 487.2L707.0 483.8L707.2 498.1L707.5 511.5L707.8 524.4L708.0 503.3L708.3 503.1L708.6 510.9L708.8 504.3L709.1 490.3L709.4 491.8L709.7 493.7L709.9 504.8L710.2 516.5L710.5 521.8L710.7 514.1L711.0 508.4L711.3 504.9L711.5 501.7L711.8 500.5L712.1 498.2L712.4 505.4L712.6 512.8L712.9 509.9L713.2 512.5L713.4 520.4L713.7 511.3L714.0 506.2L714.2 502.4L714.5 495.6L714.8 498.8L715.1 498.1L715.3 497.7L715.6 502.5L715.9 505.3L716.1 514.2L716.4 501.2L716.7 503.1L716.9 498.3L717.2 510.0L717.5 506.0L717.8 510.4L718.0 518.3L718.3 502.4L718.6 492.4L718.8 507.2L719.1 514.7L719.4 530.3L719.6 526.1L719.9 519.0L720.2 504.5L720.5 483.4L720.7 501.1L721.0 506.9L721.3 519.5L721.5 523.6L721.8 525.9L722.1 521.0L722.3 524.1L722.6 510.2L722.9 482.5L723.2 490.1L723.4 510.8L723.7 511.5L724.0 523.9L724.2 521.2L724.5 520.6L724.8 507.5L725.0 499.9L725.3 497.6L725.6 509.5L725.9 519.8L726.1 513.5L726.4 514.9L726.7 514.1L726.9 497.1L727.2 508.4L727.5 513.5L727.7 503.4L728.0 506.2L728.3 517.3L728.6 515.7L728.8 505.4L729.1 503.7L729.4 497.0L729.6 487.5L729.9 495.4L730.2 508.2L730.5 518.4L730.7 532.2L731.0 527.6L731.3 533.1L731.5 515.9L731.8 490.9L732.1 481.6L732.3 482.9L732.6 492.4L732.9 490.3L733.2 513.6L733.4 516.6L733.7 509.0L734.0 505.6L734.2 499.1L734.5 491.4L734.8 505.3L735.0 519.3L735.3 513.1L735.6 523.8L735.9 508.3L736.1 505.8L736.4 510.5L736.7 517.3L736.9 502.6L737.2 499.2L737.5 505.3L737.7 488.9L738.0 494.4L738.3 502.1L738.6 519.1L738.8 518.3L739.1 513.6L739.4 508.5L739.6 500.3L739.9 491.0L740.2 493.7L740.4 502.0L740.7 511.2L741.0 523.9L741.3 519.0L741.5 516.0L741.8 508.5L742.1 506.9L742.3 482.6L742.6 491.3L742.9 505.2L743.1 502.1L743.4 518.2L743.7 508.6L744.0 514.6L744.2 505.2L744.5 508.9L744.8 498.9L745.0 495.8L745.3 511.2L745.6 511.6L745.8 504.3L746.1 498.1L746.4 486.6L746.7 493.8L746.9 509.6L747.2 497.1L747.5 506.6L747.7 513.2L748.0 520.0L748.3 513.1L748.5 508.3L748.8 501.9L749.1 507.5L749.4 510.7L749.6 493.3L749.9 491.6L750.2 488.7L750.4 488.4L750.7 512.8L751.0 521.1L751.2 517.7L751.5 517.9L751.8 510.9L752.1 487.2L752.3 482.9L752.6 480.9L752.9 479.5L753.1 505.2L753.4 510.0L753.7 506.8L753.9 512.0L754.2 505.1L754.5 504.9L754.8 507.7L755.0 502.9L755.3 495.1L755.6 501.9L755.8 517.9L756.1 512.1L756.4 512.4L756.6 520.2L756.9 522.9L757.2 513.1L757.5 512.9L757.7 503.6L758.0 502.8L758.3 500.7L758.5 502.9L758.8 496.3L759.1 510.3L759.3 510.6L759.6 520.6L759.9 512.3L760.2 507.1L760.4 505.6L760.7 507.5L761.0 515.7L761.2 511.2L761.5 514.9L761.8 512.8L762.0 509.4L762.3 509.4L762.6 508.3L762.9 489.2L763.1 499.0L763.4 511.2L763.7 497.1L763.9 511.6L764.2 514.7L764.5 519.3L764.7 518.0L765.0 511.9L765.3 507.9L765.6 504.5L765.8 499.3L766.1 498.5L766.4 505.5L766.6 515.9L766.9 518.2L767.2 503.3L767.4 492.4L767.7 477.1L768.0 491.7L768.3 508.7L768.5 511.6L768.8 511.4L769.1 527.3L769.3 508.6L769.6 485.0L769.9 496.6L770.1 509.2L770.4 514.6L770.7 522.6L771.0 514.4L771.2 502.3L771.5 481.6L771.8 482.7L772.0 491.4L772.3 503.6L772.6 505.6L772.8 514.1L773.1 515.6L773.4 489.9L773.7 485.1L773.9 496.9L774.2 506.0L774.5 506.6L774.7 507.4L775.0 523.8L775.3 512.3L775.5 504.9L775.8 487.2L776.1 487.2L776.4 502.9L776.6 511.2L776.9 530.0L777.2 531.6L777.4 515.5L777.7 506.4L778.0 490.8L778.2 501.1L778.5 503.1L778.8 500.1L779.1 512.7L779.3 514.5L779.6 509.2L779.9 513.8L780.1 516.9L780.4 505.9L780.7 511.1L780.9 508.5L781.2 515.9L781.5 518.9L781.8 506.4L782.0 497.0L782.3 483.7L782.6 487.3L782.8 496.2L783.1 499.7L783.4 506.5L783.6 518.0L783.9 502.9L784.2 514.1L784.5 499.4L784.7 516.6L785.0 514.6L785.3 522.0L785.5 509.2L785.8 508.6L786.1 503.5L786.3 497.3L786.6 502.4L786.9 509.2L787.2 502.1L787.4 515.4L787.7 513.0L788.0 506.2L788.2 515.8L788.5 487.1L788.8 491.7L789.0 497.2L789.3 500.9L789.6 499.6L789.9 521.2L790.1 501.4L790.4 518.1L790.7 515.0L790.9 505.9L791.2 516.9L791.5 527.0L791.7 513.9L792.0 509.9L792.3 504.8L792.6 492.5L792.8 494.3L793.1 502.4L793.4 508.7L793.6 503.4L793.9 508.4L794.2 509.8L794.4 502.1L794.7 507.0L795.0 507.3L795.3 504.4L795.5 496.5L795.8 497.4L796.1 503.1L796.3 494.3L796.6 505.1L796.9 507.9L797.1 507.2L797.4 518.6L797.7 509.9L798.0 508.4L798.2 506.7L798.5 503.5L798.8 507.7L799.0 482.9L799.3 505.2L799.6 524.6L799.8 538.3L800.1 530.1L800.4 507.2L800.7 515.6L800.9 489.7L801.2 494.6L801.5 500.8L801.7 507.4L802.0 510.4L802.3 519.0L802.5 517.3L802.8 506.1L803.1 513.3L803.4 506.1L803.6 503.4L803.9 500.9L804.2 495.8L804.4 492.6L804.7 498.7L805.0 504.9L805.2 504.7L805.5 505.3L805.8 522.3L806.1 509.2L806.3 505.6L806.6 498.7L806.9 495.9L807.1 480.8L807.4 514.8L807.7 511.8L807.9 516.5L808.2 533.6L808.5 541.2L808.8 514.7L809.0 492.0L809.3 496.5L809.6 511.0L809.8 492.6L810.1 508.1L810.4 517.1L810.6 532.8L810.9 516.9L811.2 515.2L811.5 490.7L811.7 490.1L812.0 508.6L812.3 506.0L812.5 496.0L812.8 514.8L813.1 507.5L813.4 483.9L813.6 481.1L813.9 487.3L814.2 494.9L814.4 508.9L814.7 519.3L815.0 525.0L815.2 506.1L815.5 499.8L815.8 481.8L816.1 485.0L816.3 488.6L816.6 493.8L816.9 515.3L817.1 522.7L817.4 513.7L817.7 504.9L817.9 518.4L818.2 501.1L818.5 491.4L818.8 494.5L819.0 507.9L819.3 517.2L819.6 515.5L819.8 508.1L820.1 501.1L820.4 495.3L820.6 497.7L820.9 509.3L821.2 503.0L821.5 517.8L821.7 522.3L822.0 515.4L822.3 517.5L822.5 506.0L822.8 481.0L823.1 484.8L823.3 499.9L823.6 499.4L823.9 508.1L824.2 510.5L824.4 511.7L824.7 517.9L825.0 502.2L825.2 495.9L825.5 509.2L825.8 517.4L826.0 508.8L826.3 520.1L826.6 521.8L826.9 506.0L827.1 505.1L827.4 500.7L827.7 502.8L827.9 506.4L828.2 504.4L828.5 508.4L828.7 519.8L829.0 507.4L829.3 500.9L829.6 499.1L829.8 505.0L830.1 491.8L830.4 513.3L830.6 511.9L830.9 515.0L831.2 517.8L831.4 497.6L831.7 506.5L832.0 504.0L832.3 503.3L832.5 509.0L832.8 502.8L833.1 503.2L833.3 520.6L833.6 512.8L833.9 497.7L834.1 494.3L834.4 514.2L834.7 499.0L835.0 502.2L835.2 507.0L835.5 523.9L835.8 531.4L836.0 518.1L836.3 522.4L836.6 505.4L836.8 503.9L837.1 500.7L837.4 505.2L837.7 508.9L837.9 519.8L838.2 519.4L838.5 512.0L838.7 505.0L839.0 497.5L839.3 500.8L839.5 491.7L839.8 490.5L840.1 504.6L840.4 519.9L840.6 513.7L840.9 520.9L841.2 525.8L841.4 524.0L841.7 526.1L842.0 519.5L842.2 518.7L842.5 513.6L842.8 490.0L843.1 479.3L843.3 486.8L843.6 504.0L843.9 518.8L844.1 540.9L844.4 525.8L844.7 523.9L844.9 487.5L845.2 479.2L845.5 474.3L845.8 482.9L846.0 514.0L846.3 513.8L846.6 522.1L846.8 526.7L847.1 518.3L847.4 525.8L847.6 509.1L847.9 507.5L848.2 490.2L848.5 485.2L848.7 492.8L849.0 505.9L849.3 516.0L849.5 523.1L849.8 526.2L850.1 506.5L850.3 498.9L850.6 492.4L850.9 517.6L851.2 518.6L851.4 514.0L851.7 511.6L852.0 496.5L852.2 498.2L852.5 506.5L852.8 509.3L853.0 507.3L853.3 508.4L853.6 508.9L853.9 506.6L854.1 496.8L854.4 521.4L854.7 528.3L854.9 509.1L855.2 510.7L855.5 499.5L855.7 501.5L856.0 485.6L856.3 487.5L856.6 504.1L856.8 524.5L857.1 515.4L857.4 518.4L857.6 529.4L857.9 516.2L858.2 508.7L858.4 488.7L858.7 492.6L859.0 508.7L859.3 516.7L859.5 515.8L859.8 512.1L860.1 488.0L860.3 492.5L860.6 504.1L860.9 519.1L861.1 522.6L861.4 521.2L861.7 519.8L862.0 526.4L862.2 513.6L862.5 509.3L862.8 490.0L863.0 498.8L863.3 493.7L863.6 509.0L863.8 516.6L864.1 523.8L864.4 518.5L864.7 511.3L864.9 503.0L865.2 491.4L865.5 496.5L865.7 499.2L866.0 513.2L866.3 532.0L866.5 529.1L866.8 519.8L867.1 504.1L867.4 491.0L867.6 486.2L867.9 486.0L868.2 511.2L868.4 531.1L868.7 537.3L869.0 529.5L869.2 516.8L869.5 509.7L869.8 501.1L870.1 500.8L870.3 495.7L870.6 502.6L870.9 528.1L871.1 522.3L871.4 527.7L871.7 515.3L871.9 484.0L872.2 491.6L872.5 493.4L872.8 500.2L873.0 514.3L873.3 533.4L873.6 540.1L873.8 521.9L874.1 511.0L874.4 495.3L874.6 495.1L874.9 497.8L875.2 501.8L875.5 513.7L875.7 530.4L876.0 527.7L876.3 516.0L876.5 515.1L876.8 511.1L877.1 514.7L877.3 502.2L877.6 513.1L877.9 518.2L878.2 499.2L878.4 501.8L878.7 482.8L879.0 512.4L879.2 502.9L879.5 491.1L879.8 514.5L880.0 519.5L880.3 513.3L880.6 515.6L880.9 506.9L881.1 496.4L881.4 492.0L881.7 494.0L881.9 504.7L882.2 514.1L882.5 525.3L882.7 523.5L883.0 507.6L883.3 503.8L883.6 496.9L883.8 475.8L884.1 490.6L884.4 504.3L884.6 514.3L884.9 528.4L885.2 513.8L885.4 498.1L885.7 491.6L886.0 496.8L886.3 500.4L886.5 510.1L886.8 527.6L887.1 524.2L887.3 521.9L887.6 520.3L887.9 501.2L888.1 503.3L888.4 495.8L888.7 499.4L889.0 495.4L889.2 491.1L889.5 513.6L889.8 507.8L890.0 520.0L890.3 519.5L890.6 508.9L890.8 501.5L891.1 505.0L891.4 510.1L891.7 510.1L891.9 511.7L892.2 495.0L892.5 501.1L892.7 504.2L893.0 503.0L893.3 516.6L893.6 509.2L893.8 497.4L894.1 510.2L894.4 510.3L894.6 514.9L894.9 505.8L895.2 508.5L895.4 500.0L895.7 492.7L896.0 496.1L896.3 504.0L896.5 516.5L896.8 533.3L897.1 528.0L897.3 509.9L897.6 494.3L897.9 488.3L898.1 506.3L898.4 512.1L898.7 506.2L899.0 509.3L899.2 504.3L899.5 490.3L899.8 496.9L900.0 505.3L900.3 499.2L900.6 510.4L900.8 522.5L901.1 519.0L901.4 511.5L901.7 487.7L901.9 494.5L902.2 499.7L902.5 506.0L902.7 523.3L903.0 511.9L903.3 513.6L903.5 505.8L903.8 508.1L904.1 491.5L904.4 504.4L904.6 510.7L904.9 510.1L905.2 500.1L905.4 511.4L905.7 517.1L906.0 498.2L906.2 507.1L906.5 510.8L906.8 514.0L907.1 509.0L907.3 504.1L907.6 495.8L907.9 493.9L908.1 496.2L908.4 504.3L908.7 501.2L908.9 512.5L909.2 504.3L909.5 515.5L909.8 510.6L910.0 515.2L910.3 509.0L910.6 514.6L910.8 518.2L911.1 502.2L911.4 512.5L911.6 511.0L911.9 508.0L912.2 498.9L912.5 504.6L912.7 502.4L913.0 499.5L913.3 517.0L913.5 513.1L913.8 524.8L914.1 514.2L914.3 514.1L914.6 493.1L914.9 491.4L915.2 505.0L915.4 500.2L915.7 520.3L916.0 523.9L916.2 524.1L916.5 521.2L916.8 504.2L917.0 501.8L917.3 492.5L917.6 486.8L917.9 510.7L918.1 503.4L918.4 519.6L918.7 525.6L918.9 525.4L919.2 527.6L919.5 501.8L919.7 496.3L920.0 500.5L920.3 504.5L920.6 515.6L920.8 503.0L921.1 501.2L921.4 513.9L921.6 497.1L921.9 504.1L922.2 516.0L922.4 512.1L922.7 511.4L923.0 515.4L923.3 508.3L923.5 505.2L923.8 504.6L924.1 508.5L924.3 507.2L924.6 505.7L924.9 503.6L925.1 510.8L925.4 489.6L925.7 501.1L926.0 500.7L926.2 491.6L926.5 489.0L926.8 506.1L927.0 499.2L927.3 507.8L927.6 510.8L927.8 504.3L928.1 491.0L928.4 505.4L928.7 502.8L928.9 509.7L929.2 514.4L929.5 512.4L929.7 506.2L930.0 512.1L930.3 510.2L930.5 511.1L930.8 519.3L931.1 506.2L931.4 505.3L931.6 504.5L931.9 498.3L932.2 504.9L932.4 495.1L932.7 506.5L933.0 510.2L933.2 512.5L933.5 515.1L933.8 509.4L934.1 499.9L934.3 500.7L934.6 500.7L934.9 505.1L935.1 509.7L935.4 510.1L935.7 509.2L935.9 502.2L936.2 512.8L936.5 507.5L936.8 502.5L937.0 499.1L937.3 515.5L937.6 508.4L937.8 514.8L938.1 515.5L938.4 498.3L938.6 515.5L938.9 511.6L939.2 499.5L939.5 498.6L939.7 505.2L940.0 499.6L940.3 506.5L940.5 508.9L940.8 503.3L941.1 502.9L941.3 505.4L941.6 504.8L941.9 505.2L942.2 503.5L942.4 504.4L942.7 498.6L943.0 499.6L943.2 523.2L943.5 525.0L943.8 504.0L944.0 508.4L944.3 516.2L944.6 515.8L944.9 517.6L945.1 527.5L945.4 518.7L945.7 512.5L945.9 508.0L946.2 501.0L946.5 510.0L946.7 501.6L947.0 494.2L947.3 490.3L947.6 509.8L947.8 511.8L948.1 521.1L948.4 506.4L948.6 509.0L948.9 513.7L949.2 499.7L949.4 499.2L949.7 489.5L950.0 501.4L950.3 492.2L950.5 484.7L950.8 499.3L951.1 511.3L951.3 529.3L951.6 527.4L951.9 511.4L952.1 511.8L952.4 508.8L952.7 497.2L953.0 494.9L953.2 505.9L953.5 506.5L953.8 511.7L954.0 501.5L954.3 510.5L954.6 527.4L954.8 517.1L955.1 511.7L955.4 504.6L955.7 480.4L955.9 485.6L956.2 485.6L956.5 495.2L956.7 513.3L957.0 512.5L957.3 508.8L957.5 518.6L957.8 503.2L958.1 498.9L958.4 493.4L958.6 504.3L958.9 518.2L959.2 525.2L959.4 513.9L959.7 516.4L960.0 495.3L960.2 496.6L960.5 507.7L960.8 497.8L961.1 517.0L961.3 520.8L961.6 522.1L961.9 508.8L962.1 493.5L962.4 485.6L962.7 494.3L962.9 514.0L963.2 509.4L963.5 510.0L963.8 513.8L964.0 501.1L964.3 494.7L964.6 496.1L964.8 507.8L965.1 510.3L965.4 511.8L965.6 501.4L965.9 504.3L966.2 492.7L966.5 490.6L966.7 509.5L967.0 509.8L967.3 511.6L967.5 505.7L967.8 519.7L968.1 505.9L968.3 496.0L968.6 489.7L968.9 501.2L969.2 496.9L969.4 504.7L969.7 506.7L970.0 511.6L970.2 529.1L970.5 520.4L970.8 515.7L971.0 492.3L971.3 486.3L971.6 492.1L971.9 504.3L972.1 516.5L972.4 525.6L972.7 529.1L972.9 514.9L973.2 505.7L973.5 497.5L973.8 487.6L974.0 508.0L974.3 521.6L974.6 510.9L974.8 510.1L975.1 504.7L975.4 500.1L975.6 490.5L975.9 502.2L976.2 515.2L976.5 518.2L976.7 516.9L977.0 512.6L977.3 509.3L977.5 508.9L977.8 508.3L978.1 510.1L978.3 502.5L978.6 515.5L978.9 526.1L979.2 515.6L979.4 495.1L979.7 504.7L980.0 490.6L980.2 515.6L980.5 514.8L980.8 509.0L981.0 504.5L981.3 502.1L981.6 505.4L981.9 499.4L982.1 491.2L982.4 496.9L982.7 504.6L982.9 504.1L983.2 500.5L983.5 501.5L983.7 511.7L984.0 503.0L984.3 501.4L984.6 509.4L984.8 503.5L985.1 496.8L985.4 500.3L985.6 504.9L985.9 504.7L986.2 511.9L986.4 518.2L986.7 509.9L987.0 510.0L987.3 512.3L987.5 517.6L987.8 508.4L988.1 504.1L988.3 497.8L988.6 506.1L988.9 508.4L989.1 502.9L989.4 514.0L989.7 509.8L990.0 515.0L990.2 512.0L990.5 505.9L990.8 509.2L991.0 501.7L991.3 507.8L991.6 514.3L991.8 516.7L992.1 520.4L992.4 513.8L992.7 506.1L992.9 491.7L993.2 497.1L993.5 501.2L993.7 507.2L994.0 504.4L994.3 520.0L994.5 506.7L994.8 513.6L995.1 513.1L995.4 515.2L995.6 504.4L995.9 507.1L996.2 506.0L996.4 515.5L996.7 510.7L997.0 515.1L997.2 513.4L997.5 506.3L997.8 514.2L998.1 503.7L998.3 507.8L998.6 517.1L998.9 495.2L999.1 505.1L999.4 504.8L999.7 512.0L999.9 530.0L1000.2 533.6L1000.5 518.5L1000.8 506.7L1001.0 499.4L1001.3 489.6L1001.6 487.0L1001.8 486.9L1002.1 496.6L1002.4 509.1L1002.6 530.5L1002.9 536.9L1003.2 528.6L1003.5 521.7L1003.7 495.6L1004.0 483.9L1004.3 478.9L1004.5 500.0L1004.8 499.3L1005.1 520.9L1005.3 526.6L1005.6 520.6L1005.9 525.4L1006.2 513.0L1006.4 501.4L1006.7 490.9L1007.0 498.7L1007.2 503.6L1007.5 510.3L1007.8 511.8L1008.0 511.2L1008.3 512.9L1008.6 516.9L1008.9 512.0L1009.1 510.6L1009.4 509.3L1009.7 526.4L1009.9 524.6L1010.2 507.7L1010.5 498.5L1010.7 501.6L1011.0 500.9L1011.3 518.5L1011.6 525.7L1011.8 529.4L1012.1 526.5L1012.4 509.1L1012.6 504.5L1012.9 500.0L1013.2 487.4L1013.4 503.5L1013.7 503.4L1014.0 513.5L1014.3 512.6L1014.5 510.8L1014.8 507.6L1015.1 502.9L1015.3 501.5L1015.6 498.1L1015.9 510.0L1016.1 509.5L1016.4 503.3L1016.7 514.5L1017.0 504.8L1017.2 496.5L1017.5 503.6L1017.8 506.2L1018.0 504.4L1018.3 508.3L1018.6 508.7L1018.8 501.8L1019.1 504.6L1019.4 511.0L1019.7 507.7L1019.9 509.2L1020.2 517.0L1020.5 510.9L1020.7 496.2L1021.0 490.1L1021.3 500.6L1021.5 505.9L1021.8 518.8L1022.1 525.9L1022.4 511.0L1022.6 498.3L1022.9 487.7L1023.2 482.6L1023.4 504.1L1023.7 510.6L1024.0 503.1L1024.2 527.0L1024.5 527.1L1024.8 529.8L1025.1 512.0L1025.3 497.1L1025.6 491.0L1025.9 491.3L1026.1 492.4L1026.4 502.6L1026.7 515.1L1026.9 525.1L1027.2 515.5L1027.5 518.9L1027.8 512.8L1028.0 495.3L1028.3 491.3L1028.6 483.4L1028.8 500.0L1029.1 511.3L1029.4 523.2L1029.6 516.7L1029.9 514.9L1030.2 509.6L1030.5 492.0L1030.7 496.7L1031.0 495.0L1031.3 501.6L1031.5 504.4L1031.8 512.6L1032.1 512.1L1032.3 517.6L1032.6 511.2L1032.9 512.6L1033.2 518.0L1033.4 518.9L1033.7 514.5L1034.0 497.0L1034.2 495.7L1034.5 509.3L1034.8 520.1L1035.0 521.8L1035.3 507.8L1035.6 495.7L1035.9 505.0L1036.1 511.7L1036.4 505.1L1036.7 498.8L1036.9 518.6L1037.2 504.0L1037.5 519.1L1037.7 506.0L1038.0 493.6L1038.3 514.5L1038.6 514.8L1038.8 521.6L1039.1 509.0L1039.4 493.4L1039.6 503.5L1039.9 494.9L1040.2 508.5L1040.4 501.1L1040.7 490.8L1041.0 493.2L1041.3 522.5L1041.5 528.9L1041.8 510.1L1042.1 527.0L1042.3 513.6L1042.6 499.7L1042.9 498.5L1043.1 507.5L1043.4 523.9L1043.7 522.4L1044.0 509.2L1044.2 528.1L1044.5 501.9L1044.8 478.2L1045.0 494.8L1045.3 513.7L1045.6 534.6L1045.8 543.1L1046.1 533.1L1046.4 508.5L1046.7 490.1L1046.9 493.9L1047.2 487.3L1047.5 511.9L1047.7 503.9L1048.0 512.3L1048.3 504.6L1048.5 488.4L1048.8 493.6L1049.1 494.2L1049.4 499.1L1049.6 517.8L1049.9 536.0L1050.2 525.8L1050.4 531.6L1050.7 520.2L1051.0 503.4L1051.2 508.2L1051.5 509.4L1051.8 497.2L1052.1 495.3L1052.3 509.9L1052.6 514.9L1052.9 505.7L1053.1 515.3L1053.4 519.1L1053.7 518.9L1053.9 514.0L1054.2 527.3L1054.5 514.5L1054.8 503.5L1055.0 506.9L1055.3 494.8L1055.6 498.9L1055.8 513.0L1056.1 514.9L1056.4 514.5L1056.7 516.4L1056.9 514.0L1057.2 519.3L1057.5 511.6L1057.7 512.6L1058.0 500.7L1058.3 500.3L1058.5 496.7L1058.8 512.8L1059.1 513.3L1059.4 518.8L1059.6 525.0L1059.9 516.0L1060.2 508.0L1060.4 503.0L1060.7 502.9L1061.0 505.6L1061.2 501.6L1061.5 496.9L1061.8 511.5L1062.1 512.1L1062.3 529.6L1062.6 506.9L1062.9 497.9L1063.1 496.3L1063.4 485.9L1063.7 505.8L1063.9 517.3L1064.2 512.8L1064.5 509.5L1064.8 515.5L1065.0 502.1L1065.3 505.0L1065.6 493.8L1065.8 487.1L1066.1 494.3L1066.4 513.7L1066.6 522.1L1066.9 512.0L1067.2 514.3L1067.5 510.4L1067.7 521.2L1068.0 512.9L1068.3 514.5L1068.5 496.6L1068.8 495.0L1069.1 504.6L1069.3 512.9L1069.6 505.5L1069.9 513.9L1070.2 506.5L1070.4 491.4L1070.7 496.7L1071.0 514.9L1071.2 523.2L1071.5 510.9L1071.8 517.9L1072.0 514.6L1072.3 494.4L1072.6 502.8L1072.9 506.1L1073.1 513.5L1073.4 516.5L1073.7 510.5L1073.9 505.3L1074.2 502.3L1074.5 504.7L1074.7 508.3L1075.0 513.9L1075.3 507.2L1075.6 505.3L1075.8 517.4L1076.1 519.1L1076.4 510.5L1076.6 501.3L1076.9 502.3L1077.2 501.9L1077.4 499.3L1077.7 503.1L1078.0 499.8L1078.3 508.0L1078.5 502.4L1078.8 511.7L1079.1 512.1L1079.3 509.4L1079.6 520.9L1079.9 517.3L1080.1 499.5L1080.4 517.2L1080.7 507.7L1081.0 509.1L1081.2 509.2L1081.5 505.0L1081.8 501.1L1082.0 498.7L1082.3 513.3L1082.6 515.5L1082.8 523.6L1083.1 532.1L1083.4 515.5L1083.7 494.6L1083.9 501.4L1084.2 503.0L1084.5 506.3L1084.7 507.0L1085.0 505.3L1085.3 509.4L1085.5 511.5L1085.8 501.7L1086.1 487.1L1086.4 512.9L1086.6 518.2L1086.9 519.6L1087.2 525.7L1087.4 511.3L1087.7 506.4L1088.0 502.4L1088.2 498.0L1088.5 501.6L1088.8 512.5L1089.1 515.4L1089.3 530.2L1089.6 519.0L1089.9 501.5L1090.1 485.8L1090.4 487.0L1090.7 483.1L1090.9 509.1L1091.2 513.0L1091.5 515.6L1091.8 521.9L1092.0 532.1L1092.3 506.3L1092.6 483.7L1092.8 492.0L1093.1 489.9L1093.4 493.7L1093.6 515.4L1093.9 525.3L1094.2 509.2L1094.5 496.2L1094.7 499.2L1095.0 508.7L1095.3 519.4L1095.5 515.1L1095.8 518.1L1096.1 532.9L1096.3 507.3L1096.6 497.4L1096.9 486.6L1097.2 498.1L1097.4 500.5L1097.7 517.3L1098.0 529.1L1098.2 525.5L1098.5 513.6L1098.8 516.2L1099.0 503.1L1099.3 493.6L1099.6 500.8L1099.9 506.6L1100.1 508.6L1100.4 506.0L1100.7 519.8L1100.9 524.6L1101.2 513.6L1101.5 500.0L1101.7 512.7L1102.0 502.7L1102.3 496.0L1102.6 498.5L1102.8 515.6L1103.1 535.8L1103.4 530.4L1103.6 519.0L1103.9 510.0L1104.2 506.0L1104.4 495.6L1104.7 496.4L1105.0 502.8L1105.3 516.4L1105.5 519.4L1105.8 518.4L1106.1 513.1L1106.3 509.1L1106.6 529.1L1106.9 512.6L1107.1 511.0L1107.4 509.5L1107.7 501.0L1108.0 486.1L1108.2 509.6L1108.5 519.6L1108.8 526.7L1109.0 504.8L1109.3 510.0L1109.6 504.8L1109.8 490.2L1110.1 496.0L1110.4 491.2L1110.7 513.1L1110.9 516.1L1111.2 511.4L1111.5 523.0L1111.7 526.1L1112.0 520.7L1112.3 514.1L1112.5 496.5L1112.8 497.8L1113.1 491.9L1113.4 496.4L1113.6 529.2L1113.9 538.0L1114.2 526.8L1114.4 518.8L1114.7 511.1L1115.0 499.6L1115.2 480.5L1115.5 481.8L1115.8 498.6L1116.1 524.8L1116.3 528.4L1116.6 541.0L1116.9 544.7L1117.1 524.6L1117.4 496.5L1117.7 500.6L1117.9 494.3L1118.2 494.4L1118.5 511.6L1118.8 515.6L1119.0 530.0L1119.3 534.0L1119.6 528.9L1119.8 504.8L1120.1 494.8L1120.4 483.5L1120.6 490.8L1120.9 503.3L1121.2 517.2L1121.5 529.9L1121.7 527.0L1122.0 512.7L1122.3 496.6L1122.5 509.5L1122.8 503.1L1123.1 508.9L1123.3 515.1L1123.6 533.3L1123.9 522.0L1124.2 527.3L1124.4 517.4L1124.7 507.7L1125.0 498.9L1125.2 497.5L1125.5 495.2L1125.8 519.1L1126.0 530.1L1126.3 521.4L1126.6 514.9L1126.9 500.7L1127.1 496.2L1127.4 508.0L1127.7 513.7L1127.9 501.9L1128.2 521.3L1128.5 523.2L1128.7 521.2L1129.0 512.2L1129.3 505.0L1129.6 499.4L1129.8 503.2L1130.1 497.2L1130.4 522.6L1130.6 514.3L1130.9 492.4L1131.2 493.4L1131.4 478.9L1131.7 498.1L1132.0 515.0L1132.3 510.8L1132.5 527.3L1132.8 524.8L1133.1 511.4L1133.3 488.4L1133.6 501.4L1133.9 497.2L1134.1 501.1L1134.4 510.2L1134.7 525.7L1135.0 521.2L1135.2 517.2L1135.5 516.3L1135.8 509.8L1136.0 509.4L1136.3 506.9L1136.6 509.5L1136.9 510.9L1137.1 523.5L1137.4 524.1L1137.7 507.5L1137.9 505.2L1138.2 507.1L1138.5 505.7L1138.7 516.9L1139.0 529.1L1139.3 516.3L1139.6 508.0L1139.8 510.7L1140.1 500.6L1140.4 506.9L1140.6 506.0L1140.9 509.5L1141.2 509.6L1141.4 507.7L1141.7 502.2L1142.0 499.9L1142.3 507.4L1142.5 504.2L1142.8 512.1L1143.1 505.8L1143.3 512.0L1143.6 512.9L1143.9 510.1L1144.1 519.7L1144.4 494.4L1144.7 507.1L1145.0 499.6L1145.2 510.8L1145.5 519.0L1145.8 493.3L1146.0 488.6L1146.3 499.1L1146.6 498.1L1146.8 506.8L1147.1 521.8L1147.4 520.6L1147.7 522.7L1147.9 520.1L1148.2 503.4L1148.5 501.5L1148.7 499.7L1149.0 500.2L1149.3 498.1L1149.5 513.3L1149.8 517.1L1150.1 514.3L1150.4 509.9L1150.6 506.7L1150.9 499.6L1151.2 496.0L1151.4 491.4L1151.7 489.9L1152.0 492.9L1152.2 486.2L1152.5 502.1L1152.8 524.1L1153.1 523.3L1153.3 517.8L1153.6 515.7L1153.9 516.2L1154.1 500.1L1154.4 493.2L1154.7 486.3L1154.9 494.8L1155.2 492.7L1155.5 513.2L1155.8 508.6L1156.0 514.0L1156.3 511.3L1156.6 510.5L1156.8 495.7L1157.1 515.1L1157.4 509.8L1157.6 503.6L1157.9 501.9L1158.2 502.1L1158.5 501.4L1158.7 496.4L1159.0 520.2L1159.3 520.3L1159.5 511.8L1159.8 517.4L1160.1 521.2L1160.3 501.4L1160.6 490.4L1160.9 504.2L1161.2 499.9L1161.4 510.6L1161.7 517.1L1162.0 522.0L1162.2 526.8L1162.5 514.7L1162.8 498.9L1163.0 498.1L1163.3 502.6L1163.6 504.1L1163.9 509.0L1164.1 507.7L1164.4 502.6L1164.7 503.8L1164.9 498.2L1165.2 507.2L1165.5 506.4L1165.7 503.8L1166.0 504.8L1166.3 502.6L1166.6 504.9L1166.8 507.4L1167.1 509.7L1167.4 506.2L1167.6 515.0L1167.9 505.8L1168.2 498.3L1168.4 502.7L1168.7 505.9L1169.0 509.3L1169.3 515.2L1169.5 526.9L1169.8 517.6L1170.1 514.9L1170.3 509.5L1170.6 510.7L1170.9 513.6L1171.1 503.3L1171.4 507.0L1171.7 512.9L1172.0 515.5L1172.2 525.4L1172.5 518.4L1172.8 509.6L1173.0 496.9L1173.3 508.3L1173.6 501.4L1173.8 506.2L1174.1 520.6L1174.4 514.5L1174.7 514.4L1174.9 507.6L1175.2 512.5L1175.5 515.5L1175.7 522.4L1176.0 517.7L1176.3 506.2L1176.5 503.5L1176.8 502.0L1177.1 501.3L1177.4 510.3L1177.6 511.0L1177.9 508.8L1178.2 505.7L1178.4 522.3L1178.7 514.4L1179.0 511.4L1179.2 498.8L1179.5 481.1L1179.8 478.0L1180.1 491.0L1180.3 522.8L1180.6 517.4L1180.9 521.7L1181.1 524.8L1181.4 504.2L1181.7 489.9L1181.9 472.2L1182.2 488.0L1182.5 523.7L1182.8 516.7L1183.0 527.5L1183.3 534.0L1183.6 526.1L1183.8 497.8L1184.1 495.6L1184.4 495.2L1184.6 502.9L1184.9 512.0L1185.2 521.2L1185.5 525.1L1185.7 515.2L1186.0 521.1L1186.3 499.1L1186.5 493.4L1186.8 503.4L1187.1 497.8L1187.3 507.6L1187.6 518.2L1187.9 523.9L1188.2 514.6L1188.4 505.3L1188.7 502.6L1189.0 488.8L1189.2 483.1L1189.5 493.4L1189.8 505.9L1190.0 508.6L1190.3 526.7L1190.6 530.5L1190.9 532.6L1191.1 514.5L1191.4 509.4L1191.7 497.0L1191.9 498.6L1192.2 501.2L1192.5 508.7L1192.7 516.0L1193.0 521.0L1193.3 520.3L1193.6 517.6L1193.8 510.0L1194.1 501.3L1194.4 494.8L1194.6 498.6L1194.9 504.4L1195.2 505.0L1195.4 520.0L1195.7 522.3L1196.0 513.1L1196.3 508.5L1196.5 499.7L1196.8 495.6L1197.1 503.6L1197.3 510.2L1197.6 504.1L1197.9 508.6L1198.1 518.4L1198.4 519.6L1198.7 517.6L1199.0 509.3L1199.2 505.0L1199.5 498.3L1199.8 500.2L1200.0 512.8L1200.3 502.3L1200.6 518.7L1200.8 515.0L1201.1 495.1L1201.4 493.5L1201.7 506.2L1201.9 499.9L1202.2 504.8L1202.5 515.1L1202.7 515.9L1203.0 526.0L1203.3 529.3L1203.5 516.2L1203.8 503.2L1204.1 496.2L1204.4 502.5L1204.6 497.0L1204.9 511.4L1205.2 527.1L1205.4 525.3L1205.7 525.5L1206.0 511.0L1206.2 509.6L1206.5 505.0L1206.8 509.0L1207.1 515.2L1207.3 513.5L1207.6 519.9L1207.9 515.4L1208.1 513.3L1208.4 493.6L1208.7 516.1L1208.9 512.7L1209.2 523.3L1209.5 521.7L1209.8 514.2L1210.0 508.8L1210.3 509.5L1210.6 504.2L1210.8 508.5L1211.1 511.9L1211.4 499.9L1211.6 493.7L1211.9 493.4L1212.2 509.5L1212.5 504.3L1212.7 505.0L1213.0 507.2L1213.3 500.3L1213.5 502.0L1213.8 518.3L1214.1 523.4L1214.3 529.6L1214.6 521.3L1214.9 500.1L1215.2 496.7L1215.4 501.2L1215.7 506.4L1216.0 498.1L1216.2 508.9L1216.5 520.9L1216.8 507.6L1217.1 500.3L1217.3 502.2L1217.6 492.2L1217.9 486.6L1218.1 503.0L1218.4 510.7L1218.7 520.0L1218.9 526.7L1219.2 521.4L1219.5 513.1L1219.8 507.0L1220.0 492.3L1220.3 495.9L1220.6 501.7L1220.8 499.0L1221.1 510.3L1221.4 507.0L1221.6 507.5L1221.9 527.5L1222.2 517.8L1222.5 496.8L1222.7 499.2L1223.0 514.1L1223.3 521.7L1223.5 514.7L1223.8 512.2L1224.1 500.4L1224.3 494.5L1224.6 498.6L1224.9 508.7L1225.2 508.9L1225.4 510.3L1225.7 498.8L1226.0 513.4L1226.2 503.3L1226.5 515.4L1226.8 518.5L1227.0 527.6L1227.3 513.6L1227.6 508.6L1227.9 492.9L1228.1 492.5L1228.4 488.8L1228.7 509.8L1228.9 526.6L1229.2 539.4L1229.5 511.5L1229.7 511.1L1230.0 499.3L1230.3 496.1L1230.6 491.6L1230.8 495.1L1231.1 511.1L1231.4 520.9L1231.6 520.0L1231.9 520.0L1232.2 510.6L1232.4 511.2L1232.7 509.6L1233.0 508.9L1233.3 509.6L1233.5 502.4L1233.8 492.9L1234.1 492.4L1234.3 484.3L1234.6 515.3L1234.9 520.4L1235.1 518.8L1235.4 503.9L1235.7 504.5L1236.0 503.7L1236.2 505.4L1236.5 504.6L1236.8 517.7L1237.0 530.3L1237.3 533.9L1237.6 525.3L1237.8 503.9L1238.1 485.9L1238.4 483.6L1238.7 491.5L1238.9 503.0L1239.2 521.8L1239.5 517.7L1239.7 518.2L1240.0 528.9L1240.3 515.8L1240.5 501.0L1240.8 487.7L1241.1 507.4L1241.4 510.6L1241.6 514.7L1241.9 532.8L1242.2 533.1L1242.4 520.3L1242.7 516.1L1243.0 484.3L1243.2 482.3L1243.5 495.7L1243.8 494.9L1244.1 514.7L1244.3 528.2L1244.6 536.3L1244.9 514.4L1245.1 497.0L1245.4 500.5L1245.7 494.9L1245.9 492.3L1246.2 517.7L1246.5 527.8L1246.8 543.3L1247.0 532.5L1247.3 504.7L1247.6 490.9L1247.8 479.7L1248.1 485.8L1248.4 494.8L1248.6 514.8L1248.9 515.3L1249.2 504.0L1249.5 498.1L1249.7 508.8L1250.0 505.0L1250.3 499.8L1250.5 503.0L1250.8 509.8L1251.1 512.5L1251.3 505.6L1251.6 511.5L1251.9 501.2L1252.2 506.5L1252.4 499.9L1252.7 524.5L1253.0 530.3L1253.2 501.2L1253.5 519.7L1253.8 512.4L1254.0 499.1L1254.3 497.2L1254.6 512.9L1254.9 509.2L1255.1 516.3L1255.4 517.4L1255.7 521.7L1255.9 522.7L1256.2 499.9L1256.5 509.2L1256.7 495.7L1257.0 495.2L1257.3 500.7L1257.6 522.1L1257.8 503.9L1258.1 508.8L1258.4 515.8L1258.6 500.0L1258.9 503.5L1259.2 502.0L1259.4 496.2L1259.7 504.2L1260.0 496.3L1260.3 506.8L1260.5 513.8L1260.8 515.8L1261.1 507.2L1261.3 502.0L1261.6 492.0L1261.9 496.9L1262.1 502.6L1262.4 513.8L1262.7 523.0L1263.0 529.9L1263.2 512.6L1263.5 507.9L1263.8 493.5L1264.0 506.9L1264.3 513.2L1264.6 510.9L1264.8 516.6L1265.1 513.0L1265.4 516.4L1265.7 506.6L1265.9 517.7L1266.2 534.2L1266.5 540.4L1266.7 520.9L1267.0 504.3L1267.3 490.8L1267.5 481.9L1267.8 481.3L1268.1 498.1L1268.4 510.9L1268.6 532.0L1268.9 526.1L1269.2 520.6L1269.4 500.3L1269.7 473.7L1270.0 487.5L1270.2 500.0L1270.5 504.1L1270.8 527.9L1271.1 533.1L1271.3 519.2L1271.6 509.5L1271.9 495.1L1272.1 500.7L1272.4 508.7L1272.7 515.4L1272.9 521.9L1273.2 524.8L1273.5 524.6L1273.8 512.1L1274.0 499.5L1274.3 496.0L1274.6 499.6L1274.8 506.9L1275.1 513.5L1275.4 514.6L1275.6 523.5L1275.9 527.0L1276.2 526.6L1276.5 512.5L1276.7 498.7L1277.0 506.9L1277.3 502.4L1277.5 504.5L1277.8 502.8L1278.1 498.9L1278.3 492.7L1278.6 485.7L1278.9 500.5L1279.2 505.7L1279.4 500.3L1279.7 519.5L1280.0 520.6L1280.2 515.8L1280.5 506.4L1280.8 497.4L1281.0 485.6L1281.3 477.0L1281.6 505.3L1281.9 521.3L1282.1 515.8L1282.4 528.5L1282.7 511.9L1282.9 500.5L1283.2 496.2L1283.5 491.3L1283.7 488.3L1284.0 495.6L1284.3 505.9L1284.6 528.7L1284.8 526.0L1285.1 505.0L1285.4 499.7L1285.6 503.0L1285.9 499.5L1286.2 495.3L1286.4 494.0L1286.7 507.5L1287.0 505.7L1287.3 502.5L1287.5 509.3L1287.8 512.5L1288.1 513.3L1288.3 509.4L1288.6 501.7L1288.9 498.5L1289.1 511.0L1289.4 517.7L1289.7 518.1L1290.0 515.0L1290.2 514.9L1290.5 505.5L1290.8 493.3L1291.0 495.3L1291.3 495.3L1291.6 508.0L1291.8 514.3L1292.1 513.3L1292.4 521.2L1292.7 523.2L1292.9 503.3L1293.2 512.2L1293.5 517.2L1293.7 497.5L1294.0 502.5L1294.3 507.0L1294.5 518.6L1294.8 509.1L1295.1 508.2L1295.4 506.1L1295.6 501.9L1295.9 501.9L1296.2 513.6L1296.4 518.8L1296.7 518.8L1297.0 518.4L1297.2 506.9" fill="none" stroke="#000" stroke-width="1"/>
<path d="M325.4 503.8L326.2 503.4L327.0 502.7L327.8 503.2L328.6 504.7L329.5 505.1L330.3 505.0L331.1 505.0L331.9 505.0L332.7 505.2L333.5 504.3L334.3 503.7L335.1 504.0L335.9 503.2L336.7 504.3L337.6 504.1L338.4 503.7L339.2 505.2L340.0 506.0L340.8 505.9L341.6 506.2L342.4 506.5L343.2 507.4L344.0 505.3L344.8 503.9L345.7 506.1L346.5 505.0L347.3 503.9L348.1 503.8L348.9 504.4L349.7 505.3L350.5 505.1L351.3 505.5L352.1 506.4L352.9 505.9L353.8 507.0L354.6 506.3L355.4 504.4L356.2 505.5L357.0 505.7L357.8 504.9L358.6 504.6L359.4 505.0L360.2 506.1L361.0 505.1L361.9 504.2L362.7 504.5L363.5 504.7L364.3 504.5L365.1 504.3L365.9 505.5L366.7 506.4L367.5 506.0L368.3 505.7L369.1 505.3L370.0 504.3L370.8 502.2L371.6 501.1L372.4 503.0L373.2 502.5L374.0 503.1L374.8 504.1L375.6 504.2L376.4 505.2L377.2 504.4L378.1 504.0L378.9 503.7L379.7 504.8L380.5 505.7L381.3 505.1L382.1 504.6L382.9 505.8L383.7 506.9L384.5 506.1L385.3 504.3L386.2 504.7L387.0 506.3L387.8 505.5L388.6 504.0L389.4 504.3L390.2 506.4L391.0 505.1L391.8 505.1L392.6 505.4L393.4 505.3L394.3 505.3L395.1 503.9L395.9 504.4L396.7 503.3L397.5 503.3L398.3 504.3L399.1 503.6L399.9 504.6L400.7 505.2L401.5 504.4L402.4 504.9L403.2 505.6L404.0 504.7L404.8 504.9L405.6 504.9L406.4 505.3L407.2 504.9L408.0 504.5L408.8 506.9L409.7 505.2L410.5 504.9L411.3 506.2L412.1 506.0L412.9 506.4L413.7 506.0L414.5 507.8L415.3 508.2L416.1 506.9L416.9 505.9L417.8 505.3L418.6 505.7L419.4 504.8L420.2 504.4L421.0 505.2L421.8 505.8L422.6 505.5L423.4 505.0L424.2 505.5L425.0 505.3L425.9 504.3L426.7 504.5L427.5 504.6L428.3 504.9L429.1 504.5L429.9 505.1L430.7 505.8L431.5 506.0L432.3 505.5L433.1 504.5L434.0 504.6L434.8 505.3L435.6 505.7L436.4 505.5L437.2 505.4L438.0 505.4L438.8 505.1L439.6 504.0L440.4 504.0L441.2 504.1L442.1 504.1L442.9 504.6L443.7 504.0L444.5 504.1L445.3 504.1L446.1 504.2L446.9 504.2L447.7 503.8L448.5 505.2L449.3 504.8L450.2 504.2L451.0 504.5L451.8 504.5L452.6 505.8L453.4 505.3L454.2 504.6L455.0 505.2L455.8 505.0L456.6 504.3L457.4 503.3L458.3 503.4L459.1 504.6L459.9 504.7L460.7 503.5L461.5 504.4L462.3 504.6L463.1 503.8L463.9 502.8L464.7 503.0L465.5 503.5L466.4 503.3L467.2 503.5L468.0 504.9L468.8 506.2L469.6 506.0L470.4 506.3L471.2 506.3L472.0 506.3L472.8 505.5L473.6 504.8L474.5 504.3L475.3 504.8L476.1 505.0L476.9 504.7L477.7 505.2L478.5 505.6L479.3 506.2L480.1 505.5L480.9 505.1L481.7 506.4L482.6 506.4L483.4 506.0L484.2 505.6L485.0 506.0L485.8 506.0L486.6 505.3L487.4 504.9L488.2 505.4L489.0 504.4L489.9 504.6L490.7 504.1L491.5 503.3L492.3 502.9L493.1 502.5L493.9 503.5L494.7 503.9L495.5 504.4L496.3 505.0L497.1 506.6L498.0 506.4L498.8 506.0L499.6 506.4L500.4 506.4L501.2 505.6L502.0 504.9L502.8 505.0L503.6 503.9L504.4 503.9L505.2 505.7L506.1 505.4L506.9 505.5L507.7 506.9L508.5 507.7L509.3 507.4L510.1 506.9L510.9 507.6L511.7 506.4L512.5 506.6L513.3 507.2L514.2 507.0L515.0 505.7L515.8 505.2L516.6 505.6L517.4 504.8L518.2 505.0L519.0 504.5L519.8 505.7L520.6 506.3L521.4 505.8L522.3 505.6L523.1 506.6L523.9 507.2L524.7 506.4L525.5 507.5L526.3 508.3L527.1 508.3L527.9 507.8L528.7 506.7L529.5 506.9L530.4 506.0L531.2 505.5L532.0 505.0L532.8 504.7L533.6 506.0L534.4 505.5L535.2 505.6L536.0 506.1L536.8 506.5L537.6 505.3L538.5 503.6L539.3 504.4L540.1 504.8L540.9 505.0L541.7 505.2L542.5 506.0L543.3 508.3L544.1 507.0L544.9 506.8L545.7 506.1L546.6 505.1L547.4 505.6L548.2 504.1L549.0 504.1L549.8 503.7L550.6 504.5L551.4 505.4L552.2 504.4L553.0 505.8L553.8 506.4L554.7 505.6L555.5 505.6L556.3 504.9L557.1 505.5L557.9 505.5L558.7 504.9L559.5 505.3L560.3 506.2L561.1 506.8L561.9 506.3L562.8 504.9L563.6 506.6L564.4 506.2L565.2 504.0L566.0 504.5L566.8 504.4L567.6 505.6L568.4 504.9L569.2 505.4L570.1 506.9L570.9 506.9L571.7 506.8L572.5 505.9L573.3 507.2L574.1 507.5L574.9 506.9L575.7 506.4L576.5 507.6L577.3 507.3L578.2 506.3L579.0 506.4L579.8 506.0L580.6 506.8L581.4 505.1L582.2 506.5L583.0 506.6L583.8 506.5L584.6 507.1L585.4 507.0L586.3 507.4L587.1 506.7L587.9 507.2L588.7 507.7L589.5 507.7L590.3 506.3L591.1 505.7L591.9 505.6L592.7 505.4L593.5 503.0L594.4 502.8L595.2 503.7L596.0 505.5L596.8 504.2L597.6 502.3L598.4 504.9L599.2 505.0L600.0 504.4L600.8 503.4L601.6 505.6L602.5 506.4L603.3 504.8L604.1 505.5L604.9 506.4L605.7 507.3L606.5 506.6L607.3 508.1L608.1 507.6L608.9 506.6L609.7 506.5L610.6 505.7L611.4 505.4L612.2 504.9L613.0 506.5L613.8 506.8L614.6 508.2L615.4 508.6L616.2 507.8L617.0 506.6L617.8 506.5L618.7 508.3L619.5 505.8L620.3 505.0L621.1 506.2L621.9 506.7L622.7 505.9L623.5 504.3L624.3 505.9L625.1 505.9L625.9 505.9L626.8 506.4L627.6 506.6L628.4 506.5L629.2 505.7L630.0 506.5L630.8 504.8L631.6 504.2L632.4 505.4L633.2 504.3L634.0 505.1L634.9 505.4L635.7 506.4L636.5 506.5L637.3 506.4L638.1 507.8L638.9 507.6L639.7 506.7L640.5 506.7L641.3 506.8L642.1 505.7L643.0 507.2L643.8 505.2L644.6 504.9L645.4 507.5L646.2 506.8L647.0 506.2L647.8 505.8L648.6 506.6L649.4 507.2L650.3 505.2L651.1 505.1L651.9 506.0L652.7 504.3L653.5 505.0L654.3 504.5L655.1 504.4L655.9 505.5L656.7 505.2L657.5 505.2L658.4 505.2L659.2 506.5L660.0 506.3L660.8 504.8L661.6 505.7L662.4 506.0L663.2 505.1L664.0 505.9L664.8 506.4L665.6 507.6L666.5 507.3L667.3 506.5L668.1 506.4L668.9 505.4L669.7 506.0L670.5 506.1L671.3 506.2L672.1 506.4L672.9 506.3L673.7 506.4L674.6 504.8L675.4 504.2L676.2 504.9L677.0 505.3L677.8 506.6L678.6 506.8L679.4 507.6L680.2 507.7L681.0 506.5L681.8 506.8L682.7 507.2L683.5 506.3L684.3 505.1L685.1 504.9L685.9 505.7L686.7 506.3L687.5 506.2L688.3 506.3L689.1 506.9L689.9 507.5L690.8 505.8L691.6 505.4L692.4 505.8L693.2 505.3L694.0 505.9L694.8 505.6L695.6 506.9L696.4 507.0L697.2 506.0L698.0 506.3L698.9 506.5L699.7 507.3L700.5 507.3L701.3 507.5L702.1 506.9L702.9 506.9L703.7 507.7L704.5 506.7L705.3 506.2L706.1 506.0L707.0 506.3L707.8 506.1L708.6 505.5L709.4 505.8L710.2 506.0L711.0 506.1L711.8 506.9L712.6 507.1L713.4 505.8L714.2 505.9L715.1 506.1L715.9 506.1L716.7 505.2L717.5 507.0L718.3 507.3L719.1 507.4L719.9 508.9L720.7 508.4L721.5 508.7L722.3 508.6L723.2 508.5L724.0 508.9L724.8 507.8L725.6 508.0L726.4 508.7L727.2 507.2L728.0 506.9L728.8 507.8L729.6 508.1L730.5 506.4L731.3 505.9L732.1 506.1L732.9 506.8L733.7 505.9L734.5 505.8L735.3 507.0L736.1 506.2L736.9 507.1L737.7 506.7L738.6 505.8L739.4 506.4L740.2 506.2L741.0 506.5L741.8 506.3L742.6 506.6L743.4 506.9L744.2 505.1L745.0 505.2L745.8 506.2L746.7 505.8L747.5 505.7L748.3 504.5L749.1 506.1L749.9 506.4L750.7 504.1L751.5 504.0L752.3 504.3L753.1 505.2L753.9 504.7L754.8 505.7L755.6 507.9L756.4 507.5L757.2 507.4L758.0 508.2L758.8 508.1L759.6 507.7L760.4 507.7L761.2 507.5L762.0 507.6L762.9 507.9L763.7 507.5L764.5 507.0L765.3 506.7L766.1 506.1L766.9 506.8L767.7 505.3L768.5 506.2L769.3 505.7L770.1 504.8L771.0 506.2L771.8 504.3L772.6 505.0L773.4 504.9L774.2 504.3L775.0 506.7L775.8 506.2L776.6 507.0L777.4 507.4L778.2 507.3L779.1 508.7L779.9 507.5L780.7 506.3L781.5 506.8L782.3 506.3L783.1 506.7L783.9 506.4L784.7 506.1L785.5 507.6L786.3 507.3L787.2 506.6L788.0 505.8L788.8 506.3L789.6 507.5L790.4 506.9L791.2 506.8L792.0 507.6L792.8 507.5L793.6 506.5L794.4 505.1L795.3 505.8L796.1 506.3L796.9 505.6L797.7 506.9L798.5 508.2L799.3 507.8L800.1 507.9L800.9 508.2L801.7 508.6L802.5 506.6L803.4 505.6L804.2 506.9L805.0 505.4L805.8 505.5L806.6 507.5L807.4 507.8L808.2 507.9L809.0 508.6L809.8 508.9L810.6 508.3L811.5 505.4L812.3 505.2L813.1 506.0L813.9 503.6L814.7 503.8L815.5 504.4L816.3 505.3L817.1 506.0L817.9 505.4L818.8 506.3L819.6 507.4L820.4 507.4L821.2 506.2L822.0 506.2L822.8 506.4L823.6 506.9L824.4 507.1L825.2 506.4L826.0 507.6L826.9 508.0L827.7 507.4L828.5 507.2L829.3 506.7L830.1 506.8L830.9 506.8L831.7 506.7L832.5 506.8L833.3 507.2L834.1 508.2L835.0 508.1L835.8 508.6L836.6 508.7L837.4 508.3L838.2 507.8L839.0 507.6L839.8 509.0L840.6 508.8L841.4 507.1L842.2 509.5L843.1 508.9L843.9 506.7L844.7 506.5L845.5 507.3L846.3 507.6L847.1 505.8L847.9 507.5L848.7 508.4L849.5 507.9L850.3 506.7L851.2 507.7L852.0 507.6L852.8 507.7L853.6 507.8L854.4 506.1L855.2 507.6L856.0 508.3L856.8 507.7L857.6 507.4L858.4 506.7L859.3 508.8L860.1 508.9L860.9 507.5L861.7 508.2L862.5 508.4L863.3 508.6L864.1 508.1L864.9 508.0L865.7 507.1L866.5 508.6L867.4 508.7L868.2 508.8L869.0 509.1L869.8 508.4L870.6 509.0L871.4 509.2L872.2 508.5L873.0 508.4L873.8 508.9L874.6 509.3L875.5 510.4L876.3 508.7L877.1 507.9L877.9 508.7L878.7 507.8L879.5 506.3L880.3 506.7L881.1 507.1L881.9 506.2L882.7 506.7L883.6 505.9L884.4 506.6L885.2 507.3L886.0 507.1L886.8 507.7L887.6 506.9L888.4 508.0L889.2 508.2L890.0 506.8L890.8 506.4L891.7 507.2L892.5 507.8L893.3 507.0L894.1 506.4L894.9 507.9L895.7 507.5L896.5 507.5L897.3 506.7L898.1 506.4L899.0 507.9L899.8 505.8L900.6 506.7L901.4 506.9L902.2 506.9L903.0 507.4L903.8 506.8L904.6 507.7L905.4 507.2L906.2 506.3L907.1 506.6L907.9 507.2L908.7 507.5L909.5 507.4L910.3 507.4L911.1 508.1L911.9 508.9L912.7 507.9L913.5 507.4L914.3 508.5L915.2 508.2L916.0 507.8L916.8 508.2L917.6 508.9L918.4 508.8L919.2 507.5L920.0 508.0L920.8 508.9L921.6 507.6L922.4 507.5L923.3 507.1L924.1 506.5L924.9 505.9L925.7 505.5L926.5 505.1L927.3 505.5L928.1 506.1L928.9 507.1L929.7 507.5L930.5 507.1L931.4 508.0L932.2 507.4L933.0 507.1L933.8 506.7L934.6 507.1L935.4 507.5L936.2 507.2L937.0 507.7L937.8 507.4L938.6 507.3L939.5 507.1L940.3 506.8L941.1 506.6L941.9 506.9L942.7 508.0L943.5 509.0L944.3 509.2L945.1 508.5L945.9 509.1L946.7 508.8L947.6 507.3L948.4 505.3L949.2 505.9L950.0 507.5L950.8 506.4L951.6 506.3L952.4 507.6L953.2 508.9L954.0 506.8L954.8 506.0L955.7 506.8L956.5 506.1L957.3 506.5L958.1 505.9L958.9 507.7L959.7 508.4L960.5 507.0L961.3 507.9L962.1 506.8L962.9 506.9L963.8 506.8L964.6 505.3L965.4 506.7L966.2 506.4L967.0 505.8L967.8 506.1L968.6 507.2L969.4 506.7L970.2 507.2L971.0 507.9L971.9 508.0L972.7 508.5L973.5 506.8L974.3 508.4L975.1 508.2L975.9 507.6L976.7 508.9L977.5 508.2L978.3 508.9L979.2 508.4L980.0 507.3L980.8 506.8L981.6 506.0L982.4 506.0L983.2 505.5L984.0 505.6L984.8 506.7L985.6 507.5L986.4 507.4L987.3 507.6L988.1 508.5L988.9 508.4L989.7 508.4L990.5 508.5L991.3 508.1L992.1 508.2L992.9 508.1L993.7 508.4L994.5 508.2L995.4 508.1L996.2 509.0L997.0 508.6L997.8 509.0L998.6 509.8L999.4 508.4L1000.2 507.3L1001.0 509.1L1001.8 508.7L1002.6 507.0L1003.5 507.2L1004.3 508.8L1005.1 508.8L1005.9 507.3L1006.7 508.3L1007.5 509.9L1008.3 509.0L1009.1 508.6L1009.9 510.8L1010.7 510.3L1011.6 509.1L1012.4 508.9L1013.2 508.4L1014.0 508.3L1014.8 506.9L1015.6 506.7L1016.4 507.4L1017.2 506.9L1018.0 507.4L1018.8 506.9L1019.7 507.0L1020.5 507.7L1021.3 506.5L1022.1 507.1L1022.9 508.0L1023.7 507.6L1024.5 507.2L1025.3 507.8L1026.1 508.4L1026.9 507.3L1027.8 506.9L1028.6 507.4L1029.4 507.2L1030.2 506.7L1031.0 507.8L1031.8 508.7L1032.6 507.9L1033.4 508.6L1034.2 509.1L1035.0 508.6L1035.9 508.1L1036.7 508.6L1037.5 508.1L1038.3 507.6L1039.1 507.2L1039.9 508.3L1040.7 508.1L1041.5 508.2L1042.3 509.0L1043.1 508.6L1044.0 511.2L1044.8 509.4L1045.6 509.2L1046.4 508.0L1047.2 506.7L1048.0 509.0L1048.8 507.6L1049.6 508.1L1050.4 508.6L1051.2 509.4L1052.1 511.3L1052.9 509.9L1053.7 508.7L1054.5 509.5L1055.3 510.1L1056.1 509.4L1056.9 508.5L1057.7 509.4L1058.5 509.6L1059.4 508.5L1060.2 508.7L1061.0 508.4L1061.8 508.1L1062.6 507.5L1063.4 507.2L1064.2 507.0L1065.0 506.9L1065.8 508.0L1066.6 507.9L1067.5 507.5L1068.3 507.8L1069.1 508.8L1069.9 508.7L1070.7 507.6L1071.5 508.5L1072.3 508.2L1073.1 508.7L1073.9 508.9L1074.7 508.1L1075.6 508.2L1076.4 507.4L1077.2 507.9L1078.0 508.1L1078.8 507.9L1079.6 508.0L1080.4 508.6L1081.2 510.1L1082.0 509.2L1082.8 508.8L1083.7 508.5L1084.5 508.5L1085.3 509.3L1086.1 507.7L1086.9 508.4L1087.7 509.2L1088.5 507.6L1089.3 508.1L1090.1 508.2L1090.9 507.1L1091.8 507.3L1092.6 506.1L1093.4 508.3L1094.2 508.8L1095.0 506.9L1095.8 508.9L1096.6 509.4L1097.4 509.2L1098.2 508.7L1099.0 508.7L1099.9 509.5L1100.7 508.6L1101.5 509.3L1102.3 509.7L1103.1 509.6L1103.9 509.4L1104.7 510.3L1105.5 510.6L1106.3 508.8L1107.1 509.6L1108.0 509.0L1108.8 508.2L1109.6 508.5L1110.4 508.7L1111.2 508.0L1112.0 509.3L1112.8 510.2L1113.6 508.8L1114.4 509.6L1115.2 510.5L1116.1 510.5L1116.9 509.6L1117.7 510.6L1118.5 510.8L1119.3 509.7L1120.1 509.0L1120.9 509.8L1121.7 510.1L1122.5 509.7L1123.3 510.3L1124.2 510.8L1125.0 510.2L1125.8 510.2L1126.6 510.1L1127.4 509.2L1128.2 510.0L1129.0 508.3L1129.8 507.8L1130.6 508.8L1131.4 507.2L1132.3 507.0L1133.1 508.0L1133.9 508.9L1134.7 509.7L1135.5 509.6L1136.3 510.0L1137.1 511.3L1137.9 510.2L1138.7 509.9L1139.6 509.7L1140.4 508.6L1141.2 508.9L1142.0 508.4L1142.8 508.0L1143.6 508.0L1144.4 507.2L1145.2 508.1L1146.0 508.5L1146.8 507.5L1147.7 508.2L1148.5 508.4L1149.3 508.4L1150.1 506.4L1150.9 506.5L1151.7 507.7L1152.5 506.5L1153.3 505.7L1154.1 506.9L1154.9 508.2L1155.8 507.4L1156.6 506.1L1157.4 507.9L1158.2 508.9L1159.0 507.9L1159.8 508.6L1160.6 509.3L1161.4 509.4L1162.2 508.6L1163.0 507.8L1163.9 508.3L1164.7 507.4L1165.5 507.2L1166.3 507.3L1167.1 507.5L1167.9 508.8L1168.7 509.3L1169.5 509.5L1170.3 510.2L1171.1 510.4L1172.0 510.3L1172.8 509.8L1173.6 510.2L1174.4 510.3L1175.2 509.1L1176.0 509.4L1176.8 509.9L1177.6 508.0L1178.4 507.5L1179.2 508.1L1180.1 506.5L1180.9 507.6L1181.7 507.8L1182.5 508.7L1183.3 509.4L1184.1 509.0L1184.9 510.1L1185.7 509.6L1186.5 508.8L1187.3 508.1L1188.2 507.6L1189.0 508.7L1189.8 509.0L1190.6 508.4L1191.4 509.3L1192.2 510.3L1193.0 509.5L1193.8 508.9L1194.6 508.9L1195.4 508.7L1196.3 508.4L1197.1 509.0L1197.9 509.1L1198.7 508.6L1199.5 508.4L1200.3 508.5L1201.1 509.1L1201.9 508.7L1202.7 508.7L1203.5 509.7L1204.4 510.5L1205.2 510.9L1206.0 510.4L1206.8 510.5L1207.6 511.7L1208.4 510.4L1209.2 510.2L1210.0 509.2L1210.8 508.4L1211.6 508.4L1212.5 508.8L1213.3 508.2L1214.1 508.0L1214.9 508.8L1215.7 507.9L1216.5 508.2L1217.3 507.9L1218.1 507.8L1218.9 507.8L1219.8 508.1L1220.6 508.9L1221.4 509.4L1222.2 508.0L1223.0 508.5L1223.8 508.8L1224.6 508.7L1225.4 509.6L1226.2 507.7L1227.0 509.4L1227.9 509.6L1228.7 508.6L1229.5 509.0L1230.3 508.8L1231.1 510.1L1231.9 507.9L1232.7 507.9L1233.5 509.0L1234.3 508.0L1235.1 509.0L1236.0 508.7L1236.8 508.5L1237.6 509.4L1238.4 509.9L1239.2 509.7L1240.0 509.6L1240.8 509.8L1241.6 509.6L1242.4 510.2L1243.2 509.3L1244.1 509.3L1244.9 509.9L1245.7 508.8L1246.5 509.3L1247.3 507.8L1248.1 507.9L1248.9 508.4L1249.7 506.2L1250.5 507.6L1251.3 509.0L1252.2 508.8L1253.0 509.4L1253.8 510.3L1254.6 510.0L1255.4 509.7L1256.2 509.1L1257.0 509.0L1257.8 508.0L1258.6 507.4L1259.4 507.3L1260.3 507.2L1261.1 508.1L1261.9 508.2L1262.7 509.3L1263.5 509.3L1264.3 511.5L1265.1 511.6L1265.9 509.0L1266.7 510.5L1267.5 509.4L1268.4 508.3L1269.2 508.0L1270.0 507.7L1270.8 509.8L1271.6 509.6L1272.4 509.6L1273.2 510.7L1274.0 510.7L1274.8 511.0L1275.6 510.1L1276.5 508.0L1277.3 508.3L1278.1 508.8L1278.9 506.6L1279.7 506.3L1280.5 507.4L1281.3 507.7L1282.1 507.3L1282.9 507.4L1283.7 507.7L1284.6 507.5L1285.4 506.6L1286.2 507.7L1287.0 508.3L1287.8 508.1L1288.6 508.3L1289.4 508.4L1290.2 509.2L1291.0 509.3L1291.8 509.4L1292.7 509.0L1293.5 509.1L1294.3 510.0L1295.1 509.8L1295.9 509.6L1296.7 509.9" fill="none" stroke="#c8c800" stroke-width="2.2" stroke-linejoin="round"/>
<path d="M1346 110.6L1346 506.6M325.4 309L1362.2 309M1346 150.6L1353.7 150.6M1346 190.2L1353.7 190.2M1346 229.8L1353.7 229.8M1346 269.4L1353.7 269.4M1346 348.6L1353.7 348.6M1346 388.2L1353.7 388.2M1346 427.8L1353.7 427.8M1346 467.4L1353.7 467.4" fill="none" stroke="#66c2c2" stroke-width="1.8"/>
<path d="M1329.3 506.6L1362.2 506.6M1329.3 110.6L1362.2 110.6" fill="none" stroke="#33adad" stroke-width="1.8"/>
<path d="M357.8 280.7L359.4 282.2L361.5 284.3L364.1 286.8L366.9 289.5L369.7 292.3L372.3 294.9L374.8 297.6L377.5 300.6L380.1 303.6L382.7 306.5L385.1 308.9L387.3 310.8L389.1 312.0L390.5 312.7L391.8 313.1L393.0 313.2L394.5 313.1L396.4 313.0L398.8 312.7L401.7 312.2L404.8 311.5L407.9 310.8L410.7 310.3L413.0 310.0L414.7 309.9L415.9 309.9L416.9 310.1L417.8 310.4L418.9 311.1L420.5 312.0L422.6 313.4L425.1 315.2L427.7 317.3L430.4 319.5L433.1 321.6L435.5 323.5L437.7 325.2L439.7 326.9L441.6 328.4L443.6 329.9L445.5 331.3L447.6 332.5L449.8 333.6L452.1 334.7L454.4 335.6L456.8 336.3L459.0 336.8L461.1 337.0L463.0 336.9L464.8 336.4L466.5 335.8L468.2 334.9L469.9 333.8L471.7 332.5L473.6 330.9L475.5 329.1L477.4 327.0L479.4 324.8L481.5 322.6L483.7 320.5L486.1 318.4L488.6 316.1L491.3 313.9L493.9 311.8L496.4 309.9L498.8 308.4L500.9 307.4L502.8 306.8L504.6 306.4L506.5 306.2L508.5 305.9L510.8 305.4L513.5 304.8L516.6 304.1L519.8 303.4L523.1 302.7L526.2 301.8L528.9 300.9L531.2 300.0L533.2 299.1L535.0 298.1L536.8 296.9L538.7 295.4L541.0 293.4L543.7 290.8L546.7 287.8L549.8 284.4L553.0 280.8L556.1 277.2L559.0 273.8L561.7 270.4L564.4 266.8L567.0 263.2L569.5 259.7L571.9 256.7L574.1 254.2L576.1 252.3L577.8 250.7L579.4 249.6L581.0 248.8L582.7 248.3L584.6 248.2L586.7 248.5L589.0 249.1L591.3 250.2L593.7 251.4L596.0 252.8L598.2 254.2L600.3 255.8L602.3 257.6L604.3 259.6L606.3 261.5L608.2 263.3L610.2 264.8L612.2 265.9L614.2 266.8L616.2 267.5L618.3 268.1L620.3 268.7L622.3 269.3L624.3 269.7L626.3 270.0L628.3 270.1L630.3 270.5L632.3 271.1L634.3 272.3L636.3 274.2L638.3 276.6L640.3 279.3L642.4 282.2L644.4 284.9L646.4 287.3L648.3 289.5L650.2 291.6L652.0 293.7L654.0 295.5L656.0 296.9L658.4 297.9L661.1 298.2L664.1 297.8L667.3 297.0L670.5 296.2L673.6 295.7L676.5 295.8L679.2 296.6L681.8 297.9L684.2 299.4L686.7 301.0L689.1 302.6L691.6 303.9L694.0 304.9L696.2 305.9L698.4 306.8L700.7 307.6L703.4 308.3L706.6 309.0L710.6 309.8L715.2 310.6L720.1 311.4L725.1 312.0L729.7 312.3L733.7 312.0L736.9 311.1L739.7 309.6L742.2 307.8L744.4 305.8L746.6 304.0L748.8 302.4L751.0 300.9L753.0 299.3L755.0 297.8L756.9 296.6L758.8 295.8L760.8 295.8L762.8 296.5L764.8 297.9L766.8 299.7L768.9 301.9L770.9 304.4L772.9 306.9L774.9 309.9L777.0 313.4L779.1 317.2L781.1 320.9L783.1 324.1L784.9 326.5L786.6 328.0L788.1 328.9L789.6 329.3L791.1 329.4L792.5 329.4L794.0 329.5L795.5 329.5L797.1 329.4L798.6 329.1L800.2 328.8L801.7 328.7L803.1 328.8L804.5 329.2L805.8 329.6L807.0 330.3L808.3 331.0L809.5 331.9L810.8 333.0L812.1 334.3L813.4 335.9L814.6 337.7L815.9 339.4L817.3 341.2L818.6 342.7L820.0 344.2L821.5 345.7L823.0 347.2L824.4 348.5L825.9 349.4L827.2 350.0L828.4 350.2L829.5 350.0L830.5 349.6L831.6 348.8L832.7 347.8L834.0 346.5L835.4 344.9L837.0 342.8L838.6 340.5L840.3 338.0L842.0 335.5L843.6 333.0L845.2 330.4L846.8 327.7L848.5 324.9L850.1 322.2L851.7 319.7L853.3 317.6L854.9 315.8L856.6 314.2L858.2 312.8L859.8 311.7L861.4 310.9L862.9 310.3L864.3 310.1L865.5 310.3L866.8 310.7L868.0 311.3L869.2 312.1L870.6 312.8L872.1 313.7L873.7 314.8L875.4 316.0L877.1 317.2L878.7 318.3L880.2 319.1L881.6 319.7L882.9 320.2L884.2 320.5L885.5 320.7L886.7 320.7L888.0 320.5L889.3 320.2L890.5 319.7L891.7 319.0L893.0 318.2L894.3 317.1L895.7 315.7L897.2 314.0L898.8 312.1L900.4 309.9L902.0 307.5L903.7 304.9L905.3 302.2L906.9 299.2L908.5 295.9L910.0 292.3L911.6 288.9L913.3 285.6L915.0 282.9L916.8 280.6L918.6 278.6L920.5 276.8L922.5 275.2L924.4 273.9L926.5 272.9L928.7 272.2L931.1 272.0L933.5 271.9L935.9 272.0L938.1 272.0L940.0 271.7L941.6 271.3L942.9 270.9L944.1 270.4L945.2 269.7L946.4 268.8L947.7 267.5L949.2 265.8L950.8 263.7L952.5 261.3L954.2 258.8L955.8 256.3L957.3 254.0L958.7 251.7L960.0 249.4L961.3 247.0L962.5 244.8L963.7 242.9L965.0 241.4L966.3 240.3L967.6 239.5L968.9 239.0L970.2 238.7L971.5 238.6L972.8 238.6L974.1 238.9L975.3 239.4L976.6 240.1L977.9 241.0L979.2 241.7L980.5 242.4L981.9 243.0L983.3 243.8L984.8 244.5L986.3 245.0L987.7 245.3L989.2 245.3L990.6 244.9L992.0 244.1L993.3 243.1L994.7 242.0L996.2 240.8L997.8 239.5L999.6 238.0L1001.7 236.2L1003.8 234.4L1005.9 232.6L1007.8 231.3L1009.4 230.5L1010.7 230.3L1011.7 230.4L1012.5 230.8L1013.3 231.7L1014.2 233.0L1015.2 234.7L1016.4 237.0L1017.6 239.9L1018.9 243.2L1020.3 246.7L1021.6 250.4L1022.9 254.0L1024.2 257.7L1025.5 261.6L1026.8 265.7L1028.0 269.7L1029.3 273.5L1030.6 277.1L1031.8 280.4L1033.0 283.6L1034.2 286.6L1035.4 289.5L1036.8 292.1L1038.3 294.5L1040.0 296.7L1041.7 298.8L1043.6 300.6L1045.6 302.2L1047.7 303.4L1049.9 304.1L1052.2 304.1L1054.6 303.5L1057.1 302.4L1059.7 301.3L1062.5 300.5L1065.3 300.2L1068.4 300.6L1071.9 301.5L1075.5 302.6L1078.9 303.7L1082.0 304.6L1084.6 305.1L1086.4 305.2L1087.6 305.1L1088.5 304.7L1089.2 304.2L1090.2 303.3L1091.6 302.2L1093.4 300.6L1095.5 298.5L1097.7 296.1L1100.1 293.7L1102.6 291.5L1105.1 289.6L1107.8 288.0L1110.7 286.6L1113.6 285.3L1116.6 284.3L1119.6 283.5L1122.4 282.9L1125.1 282.7L1127.7 282.8L1130.2 283.2L1132.7 283.7L1135.2 284.2L1137.8 284.8L1140.4 285.3L1143.1 285.9L1145.8 286.6L1148.4 287.3L1150.9 288.1L1153.3 289.1L1155.4 290.2L1157.3 291.5L1159.1 292.9L1160.8 294.3L1162.7 295.8L1164.8 297.3L1167.1 299.0L1169.6 300.8L1172.3 302.8L1174.9 304.5L1177.6 306.0L1180.2 307.0L1182.8 307.4L1185.6 307.2L1188.3 306.7L1191.0 306.1L1193.5 305.7L1195.7 305.6L1197.6 305.9L1199.2 306.4L1200.6 307.0L1202.0 307.7L1203.5 308.3L1205.3 308.9L1207.4 309.5L1209.7 310.1L1212.0 310.8L1214.4 311.3L1216.7 311.7L1218.8 311.8L1220.6 311.6L1222.2 311.2L1223.7 310.7L1225.2 310.0L1226.7 309.1L1228.4 308.0L1230.2 306.7L1232.0 305.1L1234.0 303.3L1235.9 301.5L1237.9 299.8L1240.0 298.3L1242.2 297.1L1244.5 296.1L1246.8 295.2L1249.1 294.3L1251.4 293.4L1253.5 292.5L1255.6 291.5L1257.6 290.4L1259.6 289.2L1261.5 288.2L1263.0 287.3L1264.1 286.7" fill="none" stroke="#00c4c4" stroke-width="2.4" stroke-linejoin="round"/>
<path d="M330 301.2L331 301.2L332 300.9L333 300.5L334 300.6L335 300.3L336 300.5L337 300.9L338 300.1L339 299.9L340 300.2L341 300.1L342 299.8L343 299.4L344 299.6L345 299.7L346 298.8L347 298.9L348 298.2L349 298.3L350 297.9L351 298.3L352 297.7L353 298.1L354 297.9L355 297.6L356 296.6L357 297.1L358 297.1L359 297.0L360 296.3L361 296.6L362 296.4L363 296.4L364 297.0L365 296.4L366 296.6L367 296.9L368 296.3L369 296.5L370 296.5L371 296.5L372 296.0L373 296.4L374 296.8L375 295.8L376 296.6L377 296.3L378 296.0L379 296.9L380 296.5L381 295.8L382 296.2L383 296.4L384 296.1L385 296.4L386 296.1L387 296.4L388 296.6L389 295.9L390 296.2L391 295.9L392 296.1L393 295.7L394 295.9L395 296.0L396 296.4L397 296.5L398 295.6L399 295.8L400 296.3L401 295.4L402 295.9L403 296.1L404 296.5L405 296.3L406 296.0L407 296.0L408 296.0L409 296.6L410 296.0L411 296.0L412 296.2L413 296.1L414 296.0L415 295.7L416 296.1L417 295.9L418 296.5L419 296.3L420 296.1L421 296.3L422 296.0L423 296.5L424 296.1L425 296.3L426 295.7L427 296.3L428 295.6L429 295.5L430 296.1L431 295.9L432 296.3L433 297.0L434 295.9L435 296.0L436 296.3L437 296.4L438 296.2L439 296.2L440 296.5L441 296.5L442 295.9L443 296.3L444 296.3L445 296.0L446 296.4L447 296.0L448 296.7L449 296.4L450 296.4L451 296.2L452 296.3L453 295.7L454 296.2L455 297.0L456 296.4L457 297.8L458 297.1L459 298.3L460 298.0L461 298.9L462 298.8L463 298.2L464 299.3L465 299.4L466 298.9L467 298.9L468 299.0L469 298.7L470 299.5L471 299.0L472 299.2L473 299.0L474 299.1L475 298.9L476 299.9L477 299.4L478 299.8L479 299.6L480 299.4L481 299.5L482 299.5L483 299.8L484 299.7L485 299.8L486 299.5L487 299.8L488 300.7L489 300.0L490 299.9L491 300.4L492 300.9L493 299.9L494 300.3L495 300.2L496 299.7L497 300.6L498 300.3L499 300.4L500 300.1L501 300.5L502 300.1L503 300.2L504 299.9L505 299.8L506 300.7L507 300.1L508 300.3L509 300.2L510 300.1L511 300.0L512 300.4L513 300.1L514 300.1L515 300.1L516 300.5L517 300.3L518 300.2L519 299.8L520 299.5L521 300.3L522 300.3L523 299.9L524 300.1L525 300.2L526 300.2L527 300.2L528 299.7L529 300.3L530 299.3L531 300.1L532 299.9L533 300.0L534 300.3L535 300.2L536 299.2L537 299.0L538 299.9L539 299.2L540 299.5L541 299.8L542 298.9L543 298.7L544 299.5L545 299.4L546 299.3L547 299.4L548 299.1L549 298.8L550 299.3L551 298.9L552 298.7L553 299.4L554 299.2L555 299.3L556 298.8L557 298.8L558 298.6L559 298.6L560 298.9L561 298.5L562 298.8L563 298.8L564 299.3L565 298.0L566 298.7L567 298.3L568 298.3L569 297.7L570 298.0L571 298.4L572 298.0L573 298.0L574 297.8L575 298.2L576 297.7L577 296.9L578 297.4L579 296.6L580 295.7L581 296.3L582 296.5L583 295.6L584 294.8L585 294.4L586 295.2L587 295.3L588 295.6L589 296.0L590 296.4L591 296.5L592 295.8L593 294.9L594 293.8L595 293.7L596 292.7L597 293.3L598 292.3L599 292.6L600 292.6L601 292.0L602 293.0L603 292.8L604 292.0L605 292.4L606 292.1L607 290.9L608 291.7L609 291.4L610 291.2L611 290.6L612 290.7L613 290.5L614 290.8L615 290.3L616 290.0L617 291.0L618 290.7L619 291.3L620 291.3L621 292.2L622 291.6L623 291.2L624 290.7L625 290.1L626 289.7L627 289.3L628 289.3L629 289.2L630 289.7L631 289.2L632 288.9L633 288.6L634 288.5L635 289.2L636 288.7L637 288.4L638 288.2L639 287.8L640 288.1L641 288.3L642 287.7L643 287.6L644 287.5L645 287.5L646 286.7L647 287.0L648 286.7L649 287.1L650 286.4L651 286.7L652 286.9L653 286.4L654 286.3L655 286.7L656 286.7L657 286.4L658 287.0L659 287.6L660 286.8L661 286.9L662 286.7L663 287.2L664 286.7L665 286.9L666 287.8L667 287.1L668 287.7L669 287.9L670 287.4L671 287.4L672 287.9L673 287.1L674 286.9L675 286.6L676 287.0L677 287.4L678 287.2L679 286.5L680 286.5L681 286.6L682 286.8L683 286.6L684 286.7L685 286.6L686 286.4L687 286.4L688 286.5L689 286.3L690 286.5L691 287.0L692 286.5L693 286.3L694 285.6L695 286.3L696 285.5L697 285.6L698 286.4L699 286.3L700 286.0L701 285.4L702 285.8L703 285.7L704 286.2L705 286.8L706 286.1L707 285.8L708 285.7L709 286.1L710 286.1L711 285.8L712 286.3L713 285.9L714 286.7L715 286.7L716 286.7L717 286.2L718 286.6L719 286.4L720 286.4L721 286.3L722 286.0L723 285.9L724 286.7L725 286.3L726 286.4L727 286.7L728 285.7L729 286.0L730 286.3L731 286.4L732 286.1L733 286.5L734 286.2L735 285.7L736 285.8L737 286.4L738 286.2L739 285.4L740 286.5L741 286.3L742 286.7L743 286.3L744 286.4L745 286.3L746 287.7L747 286.9L748 287.6L749 287.0L750 287.4L751 286.9L752 287.5L753 288.1L754 287.5L755 288.2L756 287.7L757 286.9L758 286.8L759 286.5L760 286.4L761 285.9L762 285.5L763 285.4L764 284.9L765 284.5L766 285.0L767 285.3L768 284.5L769 285.0L770 284.8L771 284.7L772 285.3L773 284.8L774 285.5L775 284.7L776 285.1L777 284.9L778 284.7L779 285.2L780 284.9L781 285.2L782 285.0L783 284.7L784 285.1L785 285.2L786 285.5L787 284.9L788 285.3L789 284.7L790 285.6L791 285.0L792 284.8L793 285.5L794 286.0L795 285.1L796 285.4L797 285.6L798 285.6L799 286.3L800 286.0L801 286.1L802 286.7L803 286.3L804 286.8L805 286.5L806 286.5L807 286.4L808 287.7L809 286.9L810 287.1L811 287.0L812 287.1L813 287.0L814 287.7L815 286.6L816 286.5L817 286.6L818 286.5L819 287.3L820 287.3L821 286.7L822 286.5L823 287.0L824 287.7L825 286.4L826 287.7L827 287.2L828 288.1L829 287.5L830 287.9L831 287.8L832 288.4L833 289.7L834 289.9L835 289.9L836 290.2L837 290.3L838 291.2L839 291.3L840 290.8L841 290.3L842 289.5L843 289.6L844 289.8L845 290.4L846 290.8L847 290.2L848 290.1L849 290.5L850 290.5L851 290.6L852 291.0L853 290.7L854 291.3L855 291.1L856 291.2L857 291.0L858 290.8L859 290.8L860 291.0L861 290.9L862 291.2L863 291.1L864 290.6L865 291.1L866 290.6L867 290.9L868 291.0L869 290.3L870 291.0L871 291.0L872 290.9L873 290.7L874 290.7L875 290.4L876 290.6L877 290.5L878 290.7L879 290.2L880 290.6L881 290.5L882 290.4L883 290.2L884 290.5L885 289.8L886 290.6L887 290.7L888 290.8L889 291.0L890 290.7L891 291.0L892 291.4L893 291.5L894 291.5L895 291.0L896 291.9L897 292.2L898 292.3L899 292.1L900 291.6L901 292.6L902 292.3L903 291.5L904 292.5L905 291.8L906 291.8L907 292.0L908 292.6L909 292.0L910 292.2L911 292.7L912 292.6L913 292.0L914 291.9L915 291.5L916 291.6L917 291.8L918 291.7L919 291.4L920 291.6L921 290.9L922 291.0L923 291.1L924 290.9L925 291.0L926 290.6L927 290.2L928 290.3L929 289.7L930 289.3L931 290.0L932 289.7L933 289.8L934 289.0L935 289.4L936 289.3L937 289.1L938 288.6L939 289.2L940 289.6L941 289.3L942 288.9L943 289.1L944 289.3L945 288.0L946 288.9L947 289.0L948 289.0L949 289.3L950 289.1L951 288.7L952 288.7L953 288.8L954 288.3L955 288.4L956 288.6L957 288.9L958 288.1L959 288.0L960 288.0L961 288.3L962 287.8L963 288.2L964 287.3L965 287.4L966 287.3L967 287.6L968 287.6L969 286.6L970 286.7L971 287.1L972 286.6L973 286.2L974 286.9L975 286.0L976 285.4L977 284.3L978 284.2L979 283.1L980 283.4L981 282.6L982 282.5L983 282.7L984 282.2L985 282.6L986 282.3L987 281.7L988 281.9L989 281.6L990 282.0L991 281.3L992 281.2L993 281.6L994 281.8L995 281.6L996 280.8L997 280.7L998 281.2L999 280.7L1000 280.5L1001 281.0L1002 281.3L1003 280.9L1004 280.7L1005 280.9L1006 281.8L1007 281.1L1008 280.8L1009 280.5L1010 280.1L1011 279.3L1012 279.0L1013 278.0L1014 277.8L1015 277.4L1016 277.9L1017 277.3L1018 276.8L1019 276.7L1020 276.6L1021 276.7L1022 275.6L1023 275.6L1024 275.6L1025 276.4L1026 275.6L1027 275.0L1028 275.1L1029 275.3L1030 274.3L1031 274.0L1032 274.3L1033 273.8L1034 273.7L1035 273.3L1036 274.2L1037 274.1L1038 273.8L1039 273.9L1040 273.0L1041 273.9L1042 273.7L1043 273.9L1044 274.1L1045 273.8L1046 273.3L1047 274.1L1048 273.8L1049 274.0L1050 273.9L1051 274.0L1052 273.3L1053 274.5L1054 274.2L1055 274.5L1056 274.8L1057 274.1L1058 273.5L1059 273.8L1060 273.7L1061 273.9L1062 274.1L1063 273.4L1064 274.2L1065 273.6L1066 274.2L1067 274.1L1068 274.0L1069 274.1L1070 273.9L1071 273.9L1072 273.4L1073 274.0L1074 274.6L1075 274.6L1076 274.3L1077 274.1L1078 273.6L1079 274.3L1080 273.7L1081 273.7L1082 273.5L1083 273.6L1084 273.4L1085 273.5L1086 273.1L1087 273.3L1088 274.2L1089 273.3L1090 273.2L1091 273.5L1092 273.5L1093 272.9L1094 273.2L1095 273.6L1096 273.4L1097 273.3L1098 273.8L1099 273.1L1100 273.3L1101 273.1L1102 273.8L1103 272.6L1104 273.1L1105 273.1L1106 273.5L1107 273.5L1108 273.8L1109 272.7L1110 273.6L1111 273.2L1112 273.1L1113 273.5L1114 273.0L1115 272.6L1116 273.2L1117 272.5L1118 272.5L1119 272.6L1120 272.2L1121 272.3L1122 271.4L1123 270.6L1124 270.9L1125 271.0L1126 271.1L1127 271.9L1128 271.8L1129 271.5L1130 272.7L1131 272.6L1132 273.0L1133 272.9L1134 272.8L1135 272.3L1136 272.4L1137 271.7L1138 271.4L1139 271.1L1140 270.1L1141 270.2L1142 269.9L1143 270.1L1144 269.5L1145 270.6L1146 270.0L1147 269.6L1148 269.4L1149 269.9L1150 270.0L1151 269.7L1152 270.0L1153 269.8L1154 270.2L1155 269.7L1156 270.0L1157 270.3L1158 270.9L1159 269.6L1160 269.8L1161 269.7L1162 270.3L1163 269.5L1164 269.5L1165 269.5L1166 269.0L1167 268.9L1168 268.9L1169 268.1L1170 268.2L1171 268.4L1172 268.4L1173 268.1L1174 267.4L1175 267.7L1176 268.0L1177 267.7L1178 267.5L1179 267.5L1180 268.3L1181 268.1L1182 268.2L1183 268.6L1184 269.7L1185 269.5L1186 270.2L1187 269.8L1188 269.8L1189 268.7L1190 268.4L1191 268.8L1192 268.7L1193 268.7L1194 269.4L1195 270.1L1196 270.9L1197 270.3L1198 269.8L1199 270.3L1200 270.3L1201 270.3L1202 270.7L1203 270.3L1204 270.4L1205 269.7L1206 270.3L1207 270.7L1208 270.2L1209 269.9L1210 269.8L1211 270.4L1212 269.4L1213 269.6L1214 269.7L1215 269.8L1216 269.3L1217 269.5L1218 269.3L1219 269.4L1220 269.2L1221 268.8L1222 269.2L1223 269.6L1224 268.9L1225 269.2L1226 269.6L1227 269.0L1228 269.5L1229 269.1L1230 269.9L1231 270.3L1232 270.2L1233 269.5L1234 269.9L1235 269.7L1236 269.7L1237 270.2L1238 269.3L1239 270.1L1240 269.8L1241 270.3L1242 269.9L1243 269.7L1244 269.9L1245 269.9L1246 269.6L1247 269.6L1248 269.1L1249 268.4L1250 269.4L1251 269.2L1252 268.8L1253 268.7L1254 268.9L1255 268.3L1256 268.0L1257 268.1L1258 268.5L1259 267.7L1260 268.6L1261 268.0L1262 267.8L1263 268.7L1264 268.2L1265 267.9L1266 268.2L1267 268.7L1268 268.8L1269 268.3L1270 268.6L1271 268.7L1272 268.3L1273 268.5L1274 268.3L1275 268.0L1276 267.9L1277 268.0L1278 267.9L1279 267.6L1280 267.5L1281 268.0L1282 267.6L1283 267.7L1284 267.5L1285 267.1L1286 267.4L1287 266.1L1288 266.4L1289 265.8L1290 266.3L1291 266.1L1292 264.7L1293 265.0L1294 265.5L1295 265.4L1296 265.3L1297 265.0L1298 265.1L1299 265.4L1300 265.4L1301 266.0L1302 265.1L1303 266.3" fill="none" stroke="#0000ff" stroke-width="4.3" stroke-linejoin="round" stroke-linecap="round"/>
<path d="M1135 638.7L1297.5 638.7M1135.3 631L1135.3 646M1297 631L1297 646" fill="none" stroke="#c0c0c0" stroke-width="4.3"/>
<path d="M211.5 427.5L211.5 585.5M205 427.5L218 427.5M205 585.5L218 585.5" fill="none" stroke="#c0c0c0" stroke-width="2.4"/>
<circle cx="211.5" cy="506.7" r="4.4" fill="#000"/>
<g font-family='"Liberation Sans", sans-serif' fill="#000" filter="url(#gs)" text-rendering="geometricPrecision">
<text transform="translate(142.30 912.90) scale(0.9630 1)" font-size="29" text-anchor="end">-100</text>
<text transform="translate(142.30 833.72) scale(0.9630 1)" font-size="29" text-anchor="end">-80</text>
<text transform="translate(142.30 754.54) scale(0.9630 1)" font-size="29" text-anchor="end">-60</text>
<text transform="translate(142.30 675.36) scale(0.9630 1)" font-size="29" text-anchor="end">-40</text>
<text transform="translate(142.30 596.18) scale(0.9630 1)" font-size="29" text-anchor="end">-20</text>
<text transform="translate(142.30 517.00) scale(0.9630 1)" font-size="29" text-anchor="end">0</text>
<text transform="translate(142.30 437.82) scale(0.9630 1)" font-size="29" text-anchor="end">20</text>
<text transform="translate(142.30 358.64) scale(0.9630 1)" font-size="29" text-anchor="end">40</text>
<text transform="translate(142.30 279.46) scale(0.9630 1)" font-size="29" text-anchor="end">60</text>
<text transform="translate(142.30 200.28) scale(0.9630 1)" font-size="29" text-anchor="end">80</text>
<text transform="translate(142.30 121.10) scale(0.9630 1)" font-size="29" text-anchor="end">100</text>
<text transform="translate(162.92 944.30) scale(0.9630 1)" font-size="29" text-anchor="middle">-10</text>
<text transform="translate(324.90 944.30) scale(0.9630 1)" font-size="29" text-anchor="middle">0</text>
<text transform="translate(486.88 944.30) scale(0.9630 1)" font-size="29" text-anchor="middle">10</text>
<text transform="translate(648.85 944.30) scale(0.9630 1)" font-size="29" text-anchor="middle">20</text>
<text transform="translate(810.83 944.30) scale(0.9630 1)" font-size="29" text-anchor="middle">30</text>
<text transform="translate(972.80 944.30) scale(0.9630 1)" font-size="29" text-anchor="middle">40</text>
<text transform="translate(1134.78 944.30) scale(0.9630 1)" font-size="29" text-anchor="middle">50</text>
<text transform="translate(1296.75 944.30) scale(0.9630 1)" font-size="29" text-anchor="middle">60</text>
<text transform="translate(1458.72 944.30) scale(0.9630 1)" font-size="29" text-anchor="middle">70</text>
<text transform="translate(1480.60 199.00) scale(0.9530 1)" font-size="29" text-anchor="start">1022.0</text>
<text transform="translate(1480.60 278.50) scale(0.9530 1)" font-size="29" text-anchor="start">1021.6</text>
<text transform="translate(1480.60 358.00) scale(0.9530 1)" font-size="29" text-anchor="start">1021.2</text>
<text transform="translate(1480.60 437.50) scale(0.9530 1)" font-size="29" text-anchor="start">1020.8</text>
<text transform="translate(1551.00 912.98) scale(0.9530 1)" font-size="29" text-anchor="end">-1500</text>
<text transform="translate(1551.00 846.92) scale(0.9530 1)" font-size="29" text-anchor="end">-1000</text>
<text transform="translate(1551.00 780.86) scale(0.9530 1)" font-size="29" text-anchor="end">-500</text>
<text transform="translate(1551.00 714.80) scale(0.9530 1)" font-size="29" text-anchor="end">0</text>
<text transform="translate(1551.00 648.74) scale(0.9530 1)" font-size="29" text-anchor="end">500</text>
<text transform="translate(1551.00 582.68) scale(0.9530 1)" font-size="29" text-anchor="end">1000</text>
<text transform="translate(811.30 1005.80) scale(0.9560 1)" font-size="50.5" text-anchor="middle">Time [min] from 2026-04-15 11:01:00 UTC</text>
<text transform="translate(58.50 506.90) rotate(-90) scale(0.9610 1)" font-size="50" text-anchor="middle">Obs&#8217;d Gravity [nm/s<tspan dy="-16" font-size="34">2</tspan><tspan dy="16">]</tspan></text>
<text transform="translate(1627.85 308.60) rotate(-90) scale(0.9680 1)" font-size="50" text-anchor="middle">Pressure [hPa]</text>
<text transform="translate(1612.90 703.80) rotate(-90) scale(0.9700 1)" font-size="50" text-anchor="middle">Tide [nm/s<tspan dy="-16" font-size="34">2</tspan><tspan dy="16">]</tspan></text>
<text transform="translate(995.70 81.80) scale(0.9840 1)" font-size="32.8" text-anchor="middle" font-weight="bold">SCG_054 gravimeter Onsala Space Observatory, Sweden</text>
<text transform="translate(193.10 887.90) scale(0.9480 1)" font-size="29.4" text-anchor="start" font-weight="bold">The latest 1-hour, 1-second sampling</text>
<text transform="translate(1429.90 887.90) scale(0.9450 1)" font-size="29.4" text-anchor="end" font-weight="bold">End at 2026-04-15 12:00:59 UTC</text>
<text transform="translate(1387.20 403.40) rotate(-90) scale(0.9990 1)" font-size="24" text-anchor="start">1 DIV = 0.5 hPa/h</text>
<text transform="translate(1427.70 402.90) rotate(-90) scale(0.9570 1)" font-size="25" text-anchor="start">average = 0.1559</text>
<text transform="translate(243.80 604.40) rotate(-90) scale(1.0200 1)" font-size="23.7" text-anchor="start">Typical noise level</text>
</g>
<rect x="166.5" y="18.5" width="373" height="163" fill="#fff" stroke="#808080" stroke-width="1"/>
<path d="M204 39.5L260.2 39.5" stroke="#6060ff" stroke-width="1"/>
<circle cx="232.3" cy="39.3" r="4.3" fill="#0000ff"/>
<path d="M204 69.5L260.2 69.5" stroke="#70dada" stroke-width="1"/>
<circle cx="232.3" cy="69.4" r="4.3" fill="#00c8c8"/>
<path d="M204 100.3L260.2 100.3" stroke="#000" stroke-width="2.6"/>
<path d="M204 130.4L260.2 130.4" stroke="#bebebe" stroke-width="2.6"/>
<path d="M204 161.5L260.2 161.5" stroke="#ff6060" stroke-width="1"/>
<circle cx="232.2" cy="161.1" r="4.2" fill="#ff0000"/>
<g font-family='"Liberation Sans", sans-serif' fill="#000" font-size="24" filter="url(#gs)" text-rendering="geometricPrecision">
<text x="279.7" y="47.7">Pressure</text>
<text x="279.7" y="77.7">dP/dt low-passed</text>
<text x="279.7" y="108.5">Residual</text>
<text x="279.7" y="138.6">... last 10 min.</text>
<text x="279.7" y="169.7">Theor.Tide</text>
</g>
</svg>
</body></html>
